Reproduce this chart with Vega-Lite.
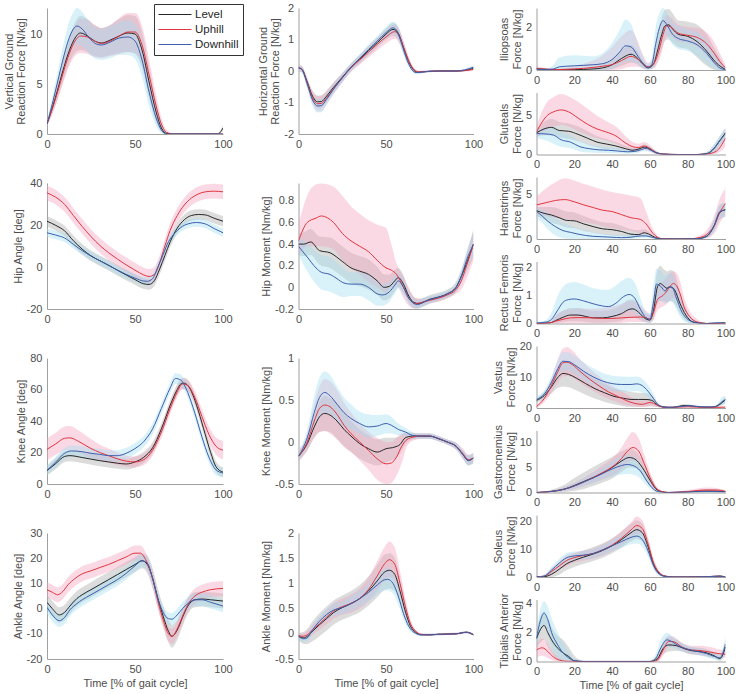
{
"$schema":"https://vega.github.io/schema/vega-lite/v6.json",
"padding":{"left":3,"top":2,"right":0,"bottom":0},
"spacing":23.5,
"hconcat":[
{"vconcat":[
{"width":176,"height":126,"data":{"name":"vgrf"},"encoding":{"x":{"field":"t","type":"quantitative","scale":{"domain":[0,100],"nice":false},"axis":{"values":[0,50,100],"tickCount":12,"title":null}}},"layer":[
{"mark":{"type":"area","interpolate":"monotone","opacity":0.4,"clip":true},"encoding":{"y":{"field":"l","type":"quantitative","stack":null,"scale":{"domain":[0,12.6],"nice":false,"zero":false},"axis":{"values":[0,5,10],"tickCount":12,"title":["Vertical Ground","Reaction Force [N/kg]"]}},"y2":{"field":"h"},"fill":{"field":"c","type":"nominal","scale":{"domain":["D","U","L"],"range":["#9fdcef","#f2a0bd","#a8a8a8"]},"legend":null}}},
{"mark":{"type":"line","interpolate":"monotone","strokeWidth":1,"clip":true},"encoding":{"y":{"field":"y","type":"quantitative"},"color":{"field":"c","type":"nominal","scale":{"domain":["L","U","D"],"range":["#262626","#e2353f","#3c5fae"]},"legend":{"title":null,"orient":"none","legendX":107,"legendY":-4,"direction":"vertical","symbolType":"stroke","symbolSize":1089,"symbolStrokeWidth":1,"clipHeight":13,"rowPadding":2,"labelOffset":3,"labelFontSize":11.5,"labelFont":"Liberation Sans","labelColor":"#262626","strokeColor":"#333333","fillColor":"white","padding":4,"labelExpr":"datum.label=='L'?'Level':datum.label=='U'?'Uphill':'Downhill'"}}}}]},
{"width":176,"height":126,"data":{"name":"hipA"},"encoding":{"x":{"field":"t","type":"quantitative","scale":{"domain":[0,100],"nice":false},"axis":{"values":[0,50,100],"tickCount":12,"title":null}}},"layer":[
{"mark":{"type":"area","interpolate":"monotone","opacity":0.4,"clip":true},"encoding":{"y":{"field":"l","type":"quantitative","stack":null,"scale":{"domain":[-20,40],"nice":false,"zero":false},"axis":{"values":[-20,0,20,40],"tickCount":12,"title":"Hip Angle [deg]"}},"y2":{"field":"h"},"fill":{"field":"c","type":"nominal","scale":{"domain":["D","U","L"],"range":["#9fdcef","#f2a0bd","#a8a8a8"]},"legend":null}}},
{"mark":{"type":"line","interpolate":"monotone","strokeWidth":1,"clip":true},"encoding":{"y":{"field":"y","type":"quantitative"},"color":{"field":"c","type":"nominal","scale":{"domain":["L","U","D"],"range":["#262626","#e2353f","#3c5fae"]},"legend":null}}}]},
{"width":176,"height":126,"data":{"name":"kneeA"},"encoding":{"x":{"field":"t","type":"quantitative","scale":{"domain":[0,100],"nice":false},"axis":{"values":[0,50,100],"tickCount":12,"title":null}}},"layer":[
{"mark":{"type":"area","interpolate":"monotone","opacity":0.4,"clip":true},"encoding":{"y":{"field":"l","type":"quantitative","stack":null,"scale":{"domain":[0,80],"nice":false,"zero":false},"axis":{"values":[0,20,40,60,80],"tickCount":12,"title":"Knee Angle [deg]"}},"y2":{"field":"h"},"fill":{"field":"c","type":"nominal","scale":{"domain":["D","U","L"],"range":["#9fdcef","#f2a0bd","#a8a8a8"]},"legend":null}}},
{"mark":{"type":"line","interpolate":"monotone","strokeWidth":1,"clip":true},"encoding":{"y":{"field":"y","type":"quantitative"},"color":{"field":"c","type":"nominal","scale":{"domain":["L","U","D"],"range":["#262626","#e2353f","#3c5fae"]},"legend":null}}}]},
{"width":176,"height":126,"data":{"name":"ankA"},"encoding":{"x":{"field":"t","type":"quantitative","scale":{"domain":[0,100],"nice":false},"axis":{"values":[0,50,100],"tickCount":12,"title":"Time [% of gait cycle]"}}},"layer":[
{"mark":{"type":"area","interpolate":"monotone","opacity":0.4,"clip":true},"encoding":{"y":{"field":"l","type":"quantitative","stack":null,"scale":{"domain":[-20,30],"nice":false,"zero":false},"axis":{"values":[-20,-10,0,10,20,30],"tickCount":12,"title":"Ankle Angle [deg]"}},"y2":{"field":"h"},"fill":{"field":"c","type":"nominal","scale":{"domain":["D","U","L"],"range":["#9fdcef","#f2a0bd","#a8a8a8"]},"legend":null}}},
{"mark":{"type":"line","interpolate":"monotone","strokeWidth":1,"clip":true},"encoding":{"y":{"field":"y","type":"quantitative"},"color":{"field":"c","type":"nominal","scale":{"domain":["L","U","D"],"range":["#262626","#e2353f","#3c5fae"]},"legend":null}}}]}
],"spacing":49,"bounds":"flush"},
{"hconcat":[
{"vconcat":[
{"width":175,"height":126,"data":{"name":"hgrf"},"encoding":{"x":{"field":"t","type":"quantitative","scale":{"domain":[0,100],"nice":false},"axis":{"values":[0,50,100],"tickCount":12,"title":null}}},"layer":[
{"mark":{"type":"area","interpolate":"monotone","opacity":0.4,"clip":true},"encoding":{"y":{"field":"l","type":"quantitative","stack":null,"scale":{"domain":[-2,2],"nice":false,"zero":false},"axis":{"values":[-2,-1,0,1,2],"tickCount":12,"title":["Horizontal Ground","Reaction Force [N/kg]"]}},"y2":{"field":"h"},"fill":{"field":"c","type":"nominal","scale":{"domain":["D","U","L"],"range":["#9fdcef","#f2a0bd","#a8a8a8"]},"legend":null}}},
{"mark":{"type":"line","interpolate":"monotone","strokeWidth":1,"clip":true},"encoding":{"y":{"field":"y","type":"quantitative"},"color":{"field":"c","type":"nominal","scale":{"domain":["L","U","D"],"range":["#262626","#e2353f","#3c5fae"]},"legend":null}}}]},
{"width":175,"height":126,"data":{"name":"hipM"},"encoding":{"x":{"field":"t","type":"quantitative","scale":{"domain":[0,100],"nice":false},"axis":{"values":[0,50,100],"tickCount":12,"title":null}}},"layer":[
{"mark":{"type":"area","interpolate":"monotone","opacity":0.4,"clip":true},"encoding":{"y":{"field":"l","type":"quantitative","stack":null,"scale":{"domain":[-0.2,0.965],"nice":false,"zero":false},"axis":{"values":[-0.2,0,0.2,0.4,0.6,0.8],"tickCount":12,"title":"Hip Moment [Nm/kg]"}},"y2":{"field":"h"},"fill":{"field":"c","type":"nominal","scale":{"domain":["D","U","L"],"range":["#9fdcef","#f2a0bd","#a8a8a8"]},"legend":null}}},
{"mark":{"type":"line","interpolate":"monotone","strokeWidth":1,"clip":true},"encoding":{"y":{"field":"y","type":"quantitative"},"color":{"field":"c","type":"nominal","scale":{"domain":["L","U","D"],"range":["#262626","#e2353f","#3c5fae"]},"legend":null}}}]},
{"width":175,"height":126,"data":{"name":"kneeM"},"encoding":{"x":{"field":"t","type":"quantitative","scale":{"domain":[0,100],"nice":false},"axis":{"values":[0,50,100],"tickCount":12,"title":null}}},"layer":[
{"mark":{"type":"area","interpolate":"monotone","opacity":0.4,"clip":true},"encoding":{"y":{"field":"l","type":"quantitative","stack":null,"scale":{"domain":[-0.5,1],"nice":false,"zero":false},"axis":{"values":[-0.5,0,0.5,1],"tickCount":12,"title":"Knee Moment [Nm/kg]"}},"y2":{"field":"h"},"fill":{"field":"c","type":"nominal","scale":{"domain":["D","U","L"],"range":["#9fdcef","#f2a0bd","#a8a8a8"]},"legend":null}}},
{"mark":{"type":"line","interpolate":"monotone","strokeWidth":1,"clip":true},"encoding":{"y":{"field":"y","type":"quantitative"},"color":{"field":"c","type":"nominal","scale":{"domain":["L","U","D"],"range":["#262626","#e2353f","#3c5fae"]},"legend":null}}}]},
{"width":175,"height":126,"data":{"name":"ankM"},"encoding":{"x":{"field":"t","type":"quantitative","scale":{"domain":[0,100],"nice":false},"axis":{"values":[0,50,100],"tickCount":12,"title":"Time [% of gait cycle]"}}},"layer":[
{"mark":{"type":"area","interpolate":"monotone","opacity":0.4,"clip":true},"encoding":{"y":{"field":"l","type":"quantitative","stack":null,"scale":{"domain":[-0.5,2],"nice":false,"zero":false},"axis":{"values":[-0.5,0,0.5,1,1.5,2],"tickCount":12,"title":"Ankle Moment [Nm/kg]"}},"y2":{"field":"h"},"fill":{"field":"c","type":"nominal","scale":{"domain":["D","U","L"],"range":["#9fdcef","#f2a0bd","#a8a8a8"]},"legend":null}}},
{"mark":{"type":"line","interpolate":"monotone","strokeWidth":1,"clip":true},"encoding":{"y":{"field":"y","type":"quantitative"},"color":{"field":"c","type":"nominal","scale":{"domain":["L","U","D"],"range":["#262626","#e2353f","#3c5fae"]},"legend":null}}}]}
],"spacing":49,"bounds":"flush"},
{"vconcat":[
{"width":189,"height":62,"data":{"name":"ilio"},"encoding":{"x":{"field":"t","type":"quantitative","scale":{"domain":[0,100],"nice":false},"axis":{"values":[0,20,40,60,80,100],"tickCount":12,"title":null}}},"layer":[
{"mark":{"type":"area","interpolate":"monotone","opacity":0.4,"clip":true},"encoding":{"y":{"field":"l","type":"quantitative","stack":null,"scale":{"domain":[0,2.95],"nice":false,"zero":false},"axis":{"values":[0,2],"tickCount":12,"title":["Iliopsoas","Force [N/kg]"]}},"y2":{"field":"h"},"fill":{"field":"c","type":"nominal","scale":{"domain":["D","U","L"],"range":["#9fdcef","#f2a0bd","#a8a8a8"]},"legend":null}}},
{"mark":{"type":"line","interpolate":"monotone","strokeWidth":1,"clip":true},"encoding":{"y":{"field":"y","type":"quantitative"},"color":{"field":"c","type":"nominal","scale":{"domain":["L","U","D"],"range":["#262626","#e2353f","#3c5fae"]},"legend":null}}}]},
{"width":189,"height":62,"data":{"name":"glut"},"encoding":{"x":{"field":"t","type":"quantitative","scale":{"domain":[0,100],"nice":false},"axis":{"values":[0,20,40,60,80,100],"tickCount":12,"title":null}}},"layer":[
{"mark":{"type":"area","interpolate":"monotone","opacity":0.4,"clip":true},"encoding":{"y":{"field":"l","type":"quantitative","stack":null,"scale":{"domain":[0,8],"nice":false,"zero":false},"axis":{"values":[0,5],"tickCount":12,"title":["Gluteals","Force [N/kg]"]}},"y2":{"field":"h"},"fill":{"field":"c","type":"nominal","scale":{"domain":["D","U","L"],"range":["#9fdcef","#f2a0bd","#a8a8a8"]},"legend":null}}},
{"mark":{"type":"line","interpolate":"monotone","strokeWidth":1,"clip":true},"encoding":{"y":{"field":"y","type":"quantitative"},"color":{"field":"c","type":"nominal","scale":{"domain":["L","U","D"],"range":["#262626","#e2353f","#3c5fae"]},"legend":null}}}]},
{"width":189,"height":62,"data":{"name":"hams"},"encoding":{"x":{"field":"t","type":"quantitative","scale":{"domain":[0,100],"nice":false},"axis":{"values":[0,20,40,60,80,100],"tickCount":12,"title":null}}},"layer":[
{"mark":{"type":"area","interpolate":"monotone","opacity":0.4,"clip":true},"encoding":{"y":{"field":"l","type":"quantitative","stack":null,"scale":{"domain":[0,7],"nice":false,"zero":false},"axis":{"values":[0,5],"tickCount":12,"title":["Hamstrings","Force [N/kg]"]}},"y2":{"field":"h"},"fill":{"field":"c","type":"nominal","scale":{"domain":["D","U","L"],"range":["#9fdcef","#f2a0bd","#a8a8a8"]},"legend":null}}},
{"mark":{"type":"line","interpolate":"monotone","strokeWidth":1,"clip":true},"encoding":{"y":{"field":"y","type":"quantitative"},"color":{"field":"c","type":"nominal","scale":{"domain":["L","U","D"],"range":["#262626","#e2353f","#3c5fae"]},"legend":null}}}]},
{"width":189,"height":62,"data":{"name":"rf"},"encoding":{"x":{"field":"t","type":"quantitative","scale":{"domain":[0,100],"nice":false},"axis":{"values":[0,20,40,60,80,100],"tickCount":12,"title":null}}},"layer":[
{"mark":{"type":"area","interpolate":"monotone","opacity":0.4,"clip":true},"encoding":{"y":{"field":"l","type":"quantitative","stack":null,"scale":{"domain":[0,2.2],"nice":false,"zero":false},"axis":{"values":[0,1,2],"tickCount":12,"title":["Rectus Femoris","Force [N/kg]"]}},"y2":{"field":"h"},"fill":{"field":"c","type":"nominal","scale":{"domain":["D","U","L"],"range":["#9fdcef","#f2a0bd","#a8a8a8"]},"legend":null}}},
{"mark":{"type":"line","interpolate":"monotone","strokeWidth":1,"clip":true},"encoding":{"y":{"field":"y","type":"quantitative"},"color":{"field":"c","type":"nominal","scale":{"domain":["L","U","D"],"range":["#262626","#e2353f","#3c5fae"]},"legend":null}}}]},
{"width":189,"height":62,"data":{"name":"vas"},"encoding":{"x":{"field":"t","type":"quantitative","scale":{"domain":[0,100],"nice":false},"axis":{"values":[0,20,40,60,80,100],"tickCount":12,"title":null}}},"layer":[
{"mark":{"type":"area","interpolate":"monotone","opacity":0.4,"clip":true},"encoding":{"y":{"field":"l","type":"quantitative","stack":null,"scale":{"domain":[0,20.3],"nice":false,"zero":false},"axis":{"values":[0,10,20],"tickCount":12,"title":["Vastus","Force [N/kg]"]}},"y2":{"field":"h"},"fill":{"field":"c","type":"nominal","scale":{"domain":["D","U","L"],"range":["#9fdcef","#f2a0bd","#a8a8a8"]},"legend":null}}},
{"mark":{"type":"line","interpolate":"monotone","strokeWidth":1,"clip":true},"encoding":{"y":{"field":"y","type":"quantitative"},"color":{"field":"c","type":"nominal","scale":{"domain":["L","U","D"],"range":["#262626","#e2353f","#3c5fae"]},"legend":null}}}]},
{"width":189,"height":62,"data":{"name":"gas"},"encoding":{"x":{"field":"t","type":"quantitative","scale":{"domain":[0,100],"nice":false},"axis":{"values":[0,20,40,60,80,100],"tickCount":12,"title":null}}},"layer":[
{"mark":{"type":"area","interpolate":"monotone","opacity":0.4,"clip":true},"encoding":{"y":{"field":"l","type":"quantitative","stack":null,"scale":{"domain":[0,12.4],"nice":false,"zero":false},"axis":{"values":[0,5,10],"tickCount":12,"title":["Gastrocnemius","Force [N/kg]"]}},"y2":{"field":"h"},"fill":{"field":"c","type":"nominal","scale":{"domain":["D","U","L"],"range":["#9fdcef","#f2a0bd","#a8a8a8"]},"legend":null}}},
{"mark":{"type":"line","interpolate":"monotone","strokeWidth":1,"clip":true},"encoding":{"y":{"field":"y","type":"quantitative"},"color":{"field":"c","type":"nominal","scale":{"domain":["L","U","D"],"range":["#262626","#e2353f","#3c5fae"]},"legend":null}}}]},
{"width":189,"height":62,"data":{"name":"sol"},"encoding":{"x":{"field":"t","type":"quantitative","scale":{"domain":[0,100],"nice":false},"axis":{"values":[0,20,40,60,80,100],"tickCount":12,"title":null}}},"layer":[
{"mark":{"type":"area","interpolate":"monotone","opacity":0.4,"clip":true},"encoding":{"y":{"field":"l","type":"quantitative","stack":null,"scale":{"domain":[0,22.4],"nice":false,"zero":false},"axis":{"values":[0,10,20],"tickCount":12,"title":["Soleus","Force [N/kg]"]}},"y2":{"field":"h"},"fill":{"field":"c","type":"nominal","scale":{"domain":["D","U","L"],"range":["#9fdcef","#f2a0bd","#a8a8a8"]},"legend":null}}},
{"mark":{"type":"line","interpolate":"monotone","strokeWidth":1,"clip":true},"encoding":{"y":{"field":"y","type":"quantitative"},"color":{"field":"c","type":"nominal","scale":{"domain":["L","U","D"],"range":["#262626","#e2353f","#3c5fae"]},"legend":null}}}]},
{"width":189,"height":62,"data":{"name":"ta"},"encoding":{"x":{"field":"t","type":"quantitative","scale":{"domain":[0,100],"nice":false},"axis":{"values":[0,20,40,60,80,100],"tickCount":12,"title":"Time [% of gait cycle]"}}},"layer":[
{"mark":{"type":"area","interpolate":"monotone","opacity":0.4,"clip":true},"encoding":{"y":{"field":"l","type":"quantitative","stack":null,"scale":{"domain":[0,4.3],"nice":false,"zero":false},"axis":{"values":[0,2,4],"tickCount":12,"title":["Tibialis Anterior","Force [N/kg]"]}},"y2":{"field":"h"},"fill":{"field":"c","type":"nominal","scale":{"domain":["D","U","L"],"range":["#9fdcef","#f2a0bd","#a8a8a8"]},"legend":null}}},
{"mark":{"type":"line","interpolate":"monotone","strokeWidth":1,"clip":true},"encoding":{"y":{"field":"y","type":"quantitative"},"color":{"field":"c","type":"nominal","scale":{"domain":["L","U","D"],"range":["#262626","#e2353f","#3c5fae"]},"legend":null}}}]}
],"spacing":22.5,"bounds":"flush"}
],"spacing":9}
],
"datasets":{
"vgrf":[
{"c":"L","t":0,"y":1.0,"l":0.8,"h":1.2},{"c":"L","t":3,"y":2.6,"l":2.0,"h":3.2},{"c":"L","t":6,"y":4.4,"l":3.5,"h":5.3},{"c":"L","t":9,"y":6.3,"l":5.2,"h":7.4},{"c":"L","t":12,"y":8.0,"l":6.8,"h":9.3},{"c":"L","t":15,"y":9.3,"l":7.9,"h":10.8},{"c":"L","t":19,"y":10.1,"l":8.4,"h":11.8},{"c":"L","t":23,"y":9.8,"l":8.2,"h":11.5},{"c":"L","t":27,"y":9.3,"l":7.8,"h":10.9},{"c":"L","t":31,"y":9.1,"l":7.7,"h":10.6},{"c":"L","t":36,"y":9.4,"l":7.9,"h":10.9},{"c":"L","t":41,"y":9.8,"l":8.1,"h":11.5},{"c":"L","t":46,"y":10.1,"l":8.2,"h":11.9},{"c":"L","t":50,"y":10.0,"l":8.0,"h":11.8},{"c":"L","t":54,"y":8.4,"l":6.6,"h":10.2},{"c":"L","t":58,"y":5.2,"l":3.6,"h":6.8},{"c":"L","t":62,"y":2.2,"l":1.2,"h":3.2},{"c":"L","t":65,"y":0.6,"l":0.2,"h":1.1},{"c":"L","t":68,"y":0.05,"l":0,"h":0.2},{"c":"L","t":72,"y":0,"l":0,"h":0.05},{"c":"L","t":80,"y":0,"l":0,"h":0.1},{"c":"L","t":90,"y":0,"l":0,"h":0.1},{"c":"L","t":97,"y":0,"l":0,"h":0.1},{"c":"L","t":100,"y":0.6,"l":0.3,"h":0.9},
{"c":"U","t":0,"y":1.0,"l":0.8,"h":1.2},{"c":"U","t":3,"y":2.5,"l":2.0,"h":3.0},{"c":"U","t":6,"y":4.2,"l":3.4,"h":5.0},{"c":"U","t":9,"y":6.0,"l":5.0,"h":7.0},{"c":"U","t":12,"y":7.7,"l":6.5,"h":8.9},{"c":"U","t":15,"y":9.0,"l":7.6,"h":10.4},{"c":"U","t":19,"y":9.8,"l":8.1,"h":11.5},{"c":"U","t":23,"y":9.7,"l":8.0,"h":11.4},{"c":"U","t":27,"y":9.3,"l":7.7,"h":10.9},{"c":"U","t":31,"y":9.05,"l":7.6,"h":10.6},{"c":"U","t":36,"y":9.3,"l":7.8,"h":10.9},{"c":"U","t":41,"y":9.8,"l":8.0,"h":11.6},{"c":"U","t":46,"y":10.2,"l":8.2,"h":12.1},{"c":"U","t":50,"y":10.2,"l":8.1,"h":12.1},{"c":"U","t":54,"y":8.9,"l":7.0,"h":10.8},{"c":"U","t":58,"y":5.9,"l":4.2,"h":7.5},{"c":"U","t":62,"y":2.8,"l":1.7,"h":3.9},{"c":"U","t":65,"y":1.0,"l":0.4,"h":1.6},{"c":"U","t":68,"y":0.15,"l":0,"h":0.4},{"c":"U","t":72,"y":0,"l":0,"h":0.05},{"c":"U","t":80,"y":0,"l":0,"h":0.05},{"c":"U","t":100,"y":0,"l":0,"h":0.05},
{"c":"D","t":0,"y":1.0,"l":0.8,"h":1.2},{"c":"D","t":3,"y":3.0,"l":2.3,"h":3.7},{"c":"D","t":6,"y":5.2,"l":4.2,"h":6.2},{"c":"D","t":9,"y":7.4,"l":6.1,"h":8.7},{"c":"D","t":12,"y":9.3,"l":7.8,"h":10.9},{"c":"D","t":15,"y":10.5,"l":8.8,"h":12.2},{"c":"D","t":17,"y":10.8,"l":9.0,"h":12.6},{"c":"D","t":20,"y":10.5,"l":8.8,"h":12.2},{"c":"D","t":24,"y":9.6,"l":8.0,"h":11.2},{"c":"D","t":28,"y":9.0,"l":7.5,"h":10.6},{"c":"D","t":31,"y":8.9,"l":7.4,"h":10.5},{"c":"D","t":36,"y":9.2,"l":7.6,"h":10.8},{"c":"D","t":41,"y":9.6,"l":7.9,"h":11.2},{"c":"D","t":46,"y":9.7,"l":7.9,"h":11.4},{"c":"D","t":50,"y":9.3,"l":7.5,"h":11.0},{"c":"D","t":54,"y":7.4,"l":5.7,"h":9.1},{"c":"D","t":58,"y":4.2,"l":2.8,"h":5.6},{"c":"D","t":62,"y":1.6,"l":0.8,"h":2.4},{"c":"D","t":65,"y":0.4,"l":0.1,"h":0.8},{"c":"D","t":68,"y":0,"l":0,"h":0.1},{"c":"D","t":80,"y":0,"l":0,"h":0.05},{"c":"D","t":100,"y":0,"l":0,"h":0.05}
],
"hgrf":[
{"c":"L","t":0,"y":0.1,"l":0.0,"h":0.2},{"c":"L","t":2,"y":0.05,"l":-0.05,"h":0.15},{"c":"L","t":5,"y":-0.35,"l":-0.48,"h":-0.22},{"c":"L","t":8,"y":-0.8,"l":-0.97,"h":-0.63},{"c":"L","t":11,"y":-0.98,"l":-1.18,"h":-0.78},{"c":"L","t":13,"y":-0.97,"l":-1.17,"h":-0.77},{"c":"L","t":16,"y":-0.8,"l":-0.98,"h":-0.62},{"c":"L","t":20,"y":-0.52,"l":-0.68,"h":-0.36},{"c":"L","t":25,"y":-0.2,"l":-0.33,"h":-0.07},{"c":"L","t":30,"y":0.12,"l":0.0,"h":0.24},{"c":"L","t":35,"y":0.38,"l":0.25,"h":0.51},{"c":"L","t":40,"y":0.65,"l":0.5,"h":0.8},{"c":"L","t":45,"y":0.9,"l":0.74,"h":1.06},{"c":"L","t":50,"y":1.17,"l":0.99,"h":1.35},{"c":"L","t":54,"y":1.32,"l":1.12,"h":1.52},{"c":"L","t":57,"y":1.2,"l":1.0,"h":1.4},{"c":"L","t":60,"y":0.75,"l":0.57,"h":0.93},{"c":"L","t":63,"y":0.3,"l":0.18,"h":0.42},{"c":"L","t":66,"y":0.02,"l":-0.04,"h":0.08},{"c":"L","t":68,"y":-0.04,"l":-0.08,"h":0.0},{"c":"L","t":72,"y":-0.02,"l":-0.05,"h":0.01},{"c":"L","t":80,"y":0,"l":-0.02,"h":0.02},{"c":"L","t":90,"y":0,"l":-0.02,"h":0.02},{"c":"L","t":96,"y":0.02,"l":-0.01,"h":0.05},{"c":"L","t":100,"y":0.1,"l":0.04,"h":0.16},
{"c":"U","t":0,"y":0.1,"l":0.0,"h":0.2},{"c":"U","t":2,"y":0.05,"l":-0.05,"h":0.15},{"c":"U","t":5,"y":-0.38,"l":-0.52,"h":-0.24},{"c":"U","t":8,"y":-0.85,"l":-1.05,"h":-0.65},{"c":"U","t":11,"y":-1.04,"l":-1.28,"h":-0.8},{"c":"U","t":13,"y":-1.03,"l":-1.27,"h":-0.79},{"c":"U","t":16,"y":-0.86,"l":-1.06,"h":-0.66},{"c":"U","t":20,"y":-0.56,"l":-0.74,"h":-0.38},{"c":"U","t":25,"y":-0.22,"l":-0.37,"h":-0.07},{"c":"U","t":30,"y":0.1,"l":-0.04,"h":0.24},{"c":"U","t":35,"y":0.35,"l":0.2,"h":0.5},{"c":"U","t":40,"y":0.6,"l":0.43,"h":0.77},{"c":"U","t":45,"y":0.85,"l":0.66,"h":1.04},{"c":"U","t":50,"y":1.08,"l":0.87,"h":1.29},{"c":"U","t":55,"y":1.25,"l":1.02,"h":1.48},{"c":"U","t":58,"y":1.05,"l":0.83,"h":1.27},{"c":"U","t":61,"y":0.6,"l":0.43,"h":0.77},{"c":"U","t":64,"y":0.2,"l":0.1,"h":0.3},{"c":"U","t":67,"y":0.0,"l":-0.05,"h":0.05},{"c":"U","t":69,"y":-0.03,"l":-0.07,"h":0.01},{"c":"U","t":75,"y":-0.01,"l":-0.04,"h":0.02},{"c":"U","t":80,"y":0,"l":-0.02,"h":0.02},{"c":"U","t":90,"y":0,"l":-0.02,"h":0.02},{"c":"U","t":100,"y":0.05,"l":0.0,"h":0.1},
{"c":"D","t":0,"y":0.1,"l":0.0,"h":0.2},{"c":"D","t":2,"y":0.04,"l":-0.06,"h":0.14},{"c":"D","t":5,"y":-0.42,"l":-0.56,"h":-0.28},{"c":"D","t":8,"y":-0.92,"l":-1.1,"h":-0.74},{"c":"D","t":11,"y":-1.11,"l":-1.32,"h":-0.9},{"c":"D","t":13,"y":-1.1,"l":-1.31,"h":-0.89},{"c":"D","t":16,"y":-0.9,"l":-1.08,"h":-0.72},{"c":"D","t":20,"y":-0.58,"l":-0.74,"h":-0.42},{"c":"D","t":25,"y":-0.22,"l":-0.36,"h":-0.08},{"c":"D","t":30,"y":0.12,"l":-0.01,"h":0.25},{"c":"D","t":35,"y":0.4,"l":0.26,"h":0.54},{"c":"D","t":40,"y":0.68,"l":0.53,"h":0.83},{"c":"D","t":45,"y":0.95,"l":0.79,"h":1.11},{"c":"D","t":50,"y":1.22,"l":1.04,"h":1.4},{"c":"D","t":54,"y":1.37,"l":1.17,"h":1.57},{"c":"D","t":56,"y":1.3,"l":1.1,"h":1.5},{"c":"D","t":59,"y":0.85,"l":0.67,"h":1.03},{"c":"D","t":62,"y":0.35,"l":0.22,"h":0.48},{"c":"D","t":65,"y":0.03,"l":-0.03,"h":0.09},{"c":"D","t":67,"y":-0.05,"l":-0.1,"h":0.0},{"c":"D","t":70,"y":-0.04,"l":-0.08,"h":0.0},{"c":"D","t":75,"y":-0.01,"l":-0.04,"h":0.02},{"c":"D","t":80,"y":0,"l":-0.02,"h":0.02},{"c":"D","t":90,"y":0,"l":-0.02,"h":0.02},{"c":"D","t":100,"y":0.12,"l":0.06,"h":0.18}
],
"hipA":[
{"c":"L","t":0,"y":21.8,"l":19.3,"h":24.3},{"c":"L","t":5,"y":19.8,"l":17.3,"h":22.3},{"c":"L","t":10,"y":17.2,"l":14.7,"h":19.7},{"c":"L","t":15,"y":12.5,"l":10.0,"h":15.0},{"c":"L","t":20,"y":8.5,"l":6.0,"h":11.0},{"c":"L","t":25,"y":5.3,"l":2.8,"h":7.8},{"c":"L","t":30,"y":3.0,"l":0.5,"h":5.5},{"c":"L","t":35,"y":0.8,"l":-1.7,"h":3.3},{"c":"L","t":40,"y":-1.5,"l":-4.0,"h":1.0},{"c":"L","t":45,"y":-3.8,"l":-6.3,"h":-1.3},{"c":"L","t":50,"y":-6.0,"l":-8.5,"h":-3.5},{"c":"L","t":55,"y":-8.0,"l":-10.5,"h":-5.5},{"c":"L","t":58,"y":-8.3,"l":-10.8,"h":-5.8},{"c":"L","t":61,"y":-6.5,"l":-9.0,"h":-4.0},{"c":"L","t":64,"y":-1.0,"l":-3.5,"h":1.5},{"c":"L","t":67,"y":5.5,"l":3.0,"h":8.0},{"c":"L","t":70,"y":12.0,"l":9.5,"h":14.5},{"c":"L","t":74,"y":18.5,"l":16.0,"h":21.0},{"c":"L","t":78,"y":22.5,"l":20.0,"h":25.0},{"c":"L","t":82,"y":24.5,"l":22.0,"h":27.0},{"c":"L","t":86,"y":25.0,"l":22.5,"h":27.5},{"c":"L","t":90,"y":24.8,"l":22.3,"h":27.3},{"c":"L","t":95,"y":23.2,"l":20.7,"h":25.7},{"c":"L","t":100,"y":21.8,"l":19.3,"h":24.3},
{"c":"U","t":0,"y":35.3,"l":31.8,"h":38.8},{"c":"U","t":5,"y":33.2,"l":29.7,"h":36.7},{"c":"U","t":10,"y":29.8,"l":26.3,"h":33.3},{"c":"U","t":15,"y":24.5,"l":21.0,"h":28.0},{"c":"U","t":20,"y":19.3,"l":15.8,"h":22.8},{"c":"U","t":25,"y":14.5,"l":11.0,"h":18.0},{"c":"U","t":30,"y":10.3,"l":6.8,"h":13.8},{"c":"U","t":35,"y":6.8,"l":3.3,"h":10.3},{"c":"U","t":40,"y":3.8,"l":0.3,"h":7.3},{"c":"U","t":45,"y":1.0,"l":-2.5,"h":4.5},{"c":"U","t":50,"y":-1.5,"l":-5.0,"h":2.0},{"c":"U","t":55,"y":-3.8,"l":-7.3,"h":-0.3},{"c":"U","t":58,"y":-4.5,"l":-8.0,"h":-1.0},{"c":"U","t":61,"y":-3.5,"l":-7.0,"h":0.0},{"c":"U","t":64,"y":2.0,"l":-1.5,"h":5.5},{"c":"U","t":67,"y":10.0,"l":6.5,"h":13.5},{"c":"U","t":70,"y":17.5,"l":14.0,"h":21.0},{"c":"U","t":74,"y":24.5,"l":21.0,"h":28.0},{"c":"U","t":78,"y":29.5,"l":26.0,"h":33.0},{"c":"U","t":82,"y":32.8,"l":29.3,"h":36.3},{"c":"U","t":86,"y":34.8,"l":31.3,"h":38.3},{"c":"U","t":90,"y":35.8,"l":32.3,"h":39.3},{"c":"U","t":95,"y":36.1,"l":32.6,"h":39.6},{"c":"U","t":100,"y":35.8,"l":32.3,"h":39.3},
{"c":"D","t":0,"y":16.3,"l":14.3,"h":18.3},{"c":"D","t":5,"y":15.2,"l":13.2,"h":17.2},{"c":"D","t":10,"y":13.8,"l":11.8,"h":15.8},{"c":"D","t":15,"y":10.8,"l":8.8,"h":12.8},{"c":"D","t":20,"y":7.8,"l":5.8,"h":9.8},{"c":"D","t":25,"y":5.2,"l":3.2,"h":7.2},{"c":"D","t":30,"y":3.0,"l":1.0,"h":5.0},{"c":"D","t":35,"y":0.8,"l":-1.2,"h":2.8},{"c":"D","t":40,"y":-1.5,"l":-3.5,"h":0.5},{"c":"D","t":45,"y":-3.5,"l":-5.5,"h":-1.5},{"c":"D","t":50,"y":-5.3,"l":-7.3,"h":-3.3},{"c":"D","t":55,"y":-6.7,"l":-8.7,"h":-4.7},{"c":"D","t":57,"y":-6.8,"l":-8.8,"h":-4.8},{"c":"D","t":60,"y":-5.5,"l":-7.5,"h":-3.5},{"c":"D","t":63,"y":0,"l":-2.0,"h":2.0},{"c":"D","t":66,"y":6.0,"l":4.0,"h":8.0},{"c":"D","t":69,"y":12.0,"l":10.0,"h":14.0},{"c":"D","t":72,"y":15.5,"l":13.5,"h":17.5},{"c":"D","t":76,"y":18.8,"l":16.8,"h":20.8},{"c":"D","t":80,"y":20.5,"l":18.5,"h":22.5},{"c":"D","t":85,"y":21.2,"l":19.2,"h":23.2},{"c":"D","t":90,"y":20.5,"l":18.5,"h":22.5},{"c":"D","t":95,"y":18.3,"l":16.3,"h":20.3},{"c":"D","t":100,"y":16.3,"l":14.3,"h":18.3}
],
"hipM":[
{"c":"L","t":0,"y":0.4,"l":0.3,"h":0.5},{"c":"L","t":3,"y":0.4,"l":0.29,"h":0.51},{"c":"L","t":7,"y":0.42,"l":0.3,"h":0.54},{"c":"L","t":12,"y":0.34,"l":0.21,"h":0.47},{"c":"L","t":18,"y":0.32,"l":0.18,"h":0.46},{"c":"L","t":25,"y":0.24,"l":0.1,"h":0.38},{"c":"L","t":30,"y":0.18,"l":0.04,"h":0.32},{"c":"L","t":35,"y":0.15,"l":0.01,"h":0.29},{"c":"L","t":40,"y":0.12,"l":-0.02,"h":0.26},{"c":"L","t":45,"y":0.06,"l":-0.07,"h":0.19},{"c":"L","t":49,"y":0.0,"l":-0.12,"h":0.12},{"c":"L","t":52,"y":0.01,"l":-0.1,"h":0.12},{"c":"L","t":55,"y":0.06,"l":-0.04,"h":0.16},{"c":"L","t":57,"y":0.09,"l":0.0,"h":0.18},{"c":"L","t":60,"y":0.03,"l":-0.05,"h":0.11},{"c":"L","t":63,"y":-0.08,"l":-0.14,"h":-0.02},{"c":"L","t":66,"y":-0.14,"l":-0.19,"h":-0.09},{"c":"L","t":69,"y":-0.15,"l":-0.19,"h":-0.11},{"c":"L","t":75,"y":-0.11,"l":-0.15,"h":-0.07},{"c":"L","t":80,"y":-0.09,"l":-0.13,"h":-0.05},{"c":"L","t":85,"y":-0.06,"l":-0.1,"h":-0.02},{"c":"L","t":90,"y":0.0,"l":-0.05,"h":0.05},{"c":"L","t":93,"y":0.1,"l":0.04,"h":0.16},{"c":"L","t":96,"y":0.22,"l":0.14,"h":0.3},{"c":"L","t":100,"y":0.4,"l":0.28,"h":0.54},
{"c":"U","t":0,"y":0.43,"l":0.3,"h":0.58},{"c":"U","t":5,"y":0.6,"l":0.38,"h":0.85},{"c":"U","t":10,"y":0.64,"l":0.38,"h":0.95},{"c":"U","t":13,"y":0.66,"l":0.38,"h":0.96},{"c":"U","t":20,"y":0.6,"l":0.35,"h":0.93},{"c":"U","t":25,"y":0.5,"l":0.25,"h":0.85},{"c":"U","t":30,"y":0.43,"l":0.18,"h":0.75},{"c":"U","t":35,"y":0.38,"l":0.12,"h":0.68},{"c":"U","t":40,"y":0.33,"l":0.05,"h":0.62},{"c":"U","t":45,"y":0.25,"l":0.0,"h":0.58},{"c":"U","t":50,"y":0.18,"l":-0.05,"h":0.55},{"c":"U","t":53,"y":0.16,"l":0.0,"h":0.4},{"c":"U","t":56,"y":0.12,"l":0.02,"h":0.22},{"c":"U","t":60,"y":0.0,"l":-0.1,"h":0.1},{"c":"U","t":63,"y":-0.1,"l":-0.17,"h":0.0},{"c":"U","t":67,"y":-0.15,"l":-0.2,"h":-0.1},{"c":"U","t":70,"y":-0.14,"l":-0.18,"h":-0.1},{"c":"U","t":75,"y":-0.12,"l":-0.15,"h":-0.09},{"c":"U","t":80,"y":-0.1,"l":-0.13,"h":-0.07},{"c":"U","t":85,"y":-0.07,"l":-0.1,"h":-0.04},{"c":"U","t":90,"y":-0.02,"l":-0.06,"h":0.02},{"c":"U","t":93,"y":0.06,"l":-0.02,"h":0.14},{"c":"U","t":96,"y":0.2,"l":0.08,"h":0.32},{"c":"U","t":100,"y":0.4,"l":0.25,"h":0.52},
{"c":"D","t":0,"y":0.38,"l":0.3,"h":0.46},{"c":"D","t":5,"y":0.28,"l":0.15,"h":0.41},{"c":"D","t":10,"y":0.18,"l":0.03,"h":0.33},{"c":"D","t":13,"y":0.14,"l":-0.02,"h":0.3},{"c":"D","t":18,"y":0.12,"l":-0.04,"h":0.28},{"c":"D","t":22,"y":0.08,"l":-0.07,"h":0.23},{"c":"D","t":26,"y":0.04,"l":-0.09,"h":0.17},{"c":"D","t":30,"y":0.03,"l":-0.08,"h":0.14},{"c":"D","t":35,"y":0.03,"l":-0.08,"h":0.14},{"c":"D","t":40,"y":0.0,"l":-0.12,"h":0.12},{"c":"D","t":45,"y":-0.06,"l":-0.17,"h":0.05},{"c":"D","t":48,"y":-0.07,"l":-0.17,"h":0.03},{"c":"D","t":52,"y":-0.04,"l":-0.13,"h":0.05},{"c":"D","t":55,"y":0.02,"l":-0.06,"h":0.1},{"c":"D","t":57,"y":0.06,"l":-0.01,"h":0.13},{"c":"D","t":60,"y":0.0,"l":-0.07,"h":0.07},{"c":"D","t":63,"y":-0.1,"l":-0.15,"h":-0.05},{"c":"D","t":66,"y":-0.15,"l":-0.19,"h":-0.11},{"c":"D","t":68,"y":-0.16,"l":-0.2,"h":-0.12},{"c":"D","t":72,"y":-0.13,"l":-0.17,"h":-0.09},{"c":"D","t":78,"y":-0.1,"l":-0.13,"h":-0.07},{"c":"D","t":85,"y":-0.06,"l":-0.09,"h":-0.03},{"c":"D","t":90,"y":0.0,"l":-0.04,"h":0.04},{"c":"D","t":93,"y":0.1,"l":0.04,"h":0.16},{"c":"D","t":96,"y":0.25,"l":0.17,"h":0.33},{"c":"D","t":100,"y":0.4,"l":0.3,"h":0.5}
],
"kneeA":[
{"c":"L","t":0,"y":8.5,"l":5.5,"h":11.5},{"c":"L","t":5,"y":13.0,"l":9.5,"h":16.5},{"c":"L","t":10,"y":17.5,"l":14.0,"h":21.0},{"c":"L","t":13,"y":18.0,"l":14.5,"h":21.5},{"c":"L","t":20,"y":16.8,"l":13.3,"h":20.3},{"c":"L","t":25,"y":15.8,"l":12.3,"h":19.3},{"c":"L","t":30,"y":14.8,"l":11.3,"h":18.3},{"c":"L","t":35,"y":14.0,"l":10.5,"h":17.5},{"c":"L","t":40,"y":13.2,"l":9.7,"h":16.7},{"c":"L","t":45,"y":12.7,"l":9.2,"h":16.2},{"c":"L","t":50,"y":14.0,"l":10.5,"h":17.5},{"c":"L","t":55,"y":17.0,"l":13.5,"h":20.5},{"c":"L","t":60,"y":23.0,"l":19.5,"h":26.5},{"c":"L","t":65,"y":35.0,"l":31.5,"h":38.5},{"c":"L","t":70,"y":50.0,"l":46.5,"h":53.5},{"c":"L","t":74,"y":60.0,"l":56.5,"h":63.5},{"c":"L","t":76,"y":63.5,"l":60.0,"h":67.0},{"c":"L","t":78,"y":64.0,"l":60.5,"h":67.5},{"c":"L","t":81,"y":61.0,"l":57.5,"h":64.5},{"c":"L","t":85,"y":50.0,"l":46.5,"h":53.5},{"c":"L","t":89,"y":35.0,"l":31.5,"h":38.5},{"c":"L","t":93,"y":20.0,"l":16.5,"h":23.5},{"c":"L","t":96,"y":11.0,"l":7.5,"h":14.5},{"c":"L","t":100,"y":7.5,"l":4.5,"h":10.5},
{"c":"U","t":0,"y":22.0,"l":15.0,"h":29.0},{"c":"U","t":5,"y":25.5,"l":18.5,"h":32.5},{"c":"U","t":10,"y":29.0,"l":21.5,"h":36.5},{"c":"U","t":13,"y":29.3,"l":21.8,"h":36.8},{"c":"U","t":18,"y":27.0,"l":20.0,"h":34.0},{"c":"U","t":25,"y":22.5,"l":16.5,"h":28.5},{"c":"U","t":30,"y":20.0,"l":15.0,"h":25.0},{"c":"U","t":35,"y":18.0,"l":13.5,"h":22.5},{"c":"U","t":40,"y":16.0,"l":12.0,"h":20.0},{"c":"U","t":45,"y":14.5,"l":11.0,"h":18.0},{"c":"U","t":50,"y":14.0,"l":10.5,"h":17.5},{"c":"U","t":55,"y":15.5,"l":12.0,"h":19.0},{"c":"U","t":60,"y":21.5,"l":18.0,"h":25.0},{"c":"U","t":65,"y":33.0,"l":29.5,"h":36.5},{"c":"U","t":70,"y":48.0,"l":44.5,"h":51.5},{"c":"U","t":74,"y":58.5,"l":55.0,"h":62.0},{"c":"U","t":77,"y":63.5,"l":60.0,"h":67.0},{"c":"U","t":80,"y":62.5,"l":59.0,"h":66.0},{"c":"U","t":84,"y":55.0,"l":51.0,"h":59.0},{"c":"U","t":88,"y":43.0,"l":38.5,"h":47.5},{"c":"U","t":92,"y":31.5,"l":26.5,"h":36.5},{"c":"U","t":96,"y":24.0,"l":18.5,"h":29.5},{"c":"U","t":100,"y":21.5,"l":15.5,"h":27.5},
{"c":"D","t":0,"y":8.7,"l":5.7,"h":11.7},{"c":"D","t":5,"y":14.0,"l":10.5,"h":17.5},{"c":"D","t":10,"y":19.5,"l":16.0,"h":23.0},{"c":"D","t":14,"y":21.0,"l":17.5,"h":24.5},{"c":"D","t":20,"y":20.5,"l":17.0,"h":24.0},{"c":"D","t":25,"y":19.5,"l":16.0,"h":23.0},{"c":"D","t":30,"y":18.8,"l":15.3,"h":22.3},{"c":"D","t":35,"y":18.0,"l":14.5,"h":21.5},{"c":"D","t":40,"y":18.0,"l":14.5,"h":21.5},{"c":"D","t":45,"y":19.5,"l":16.0,"h":23.0},{"c":"D","t":50,"y":22.5,"l":19.0,"h":26.0},{"c":"D","t":55,"y":27.0,"l":23.5,"h":30.5},{"c":"D","t":60,"y":35.0,"l":31.5,"h":38.5},{"c":"D","t":65,"y":48.0,"l":44.5,"h":51.5},{"c":"D","t":70,"y":61.0,"l":57.5,"h":64.5},{"c":"D","t":73,"y":67.0,"l":63.5,"h":70.5},{"c":"D","t":76,"y":66.0,"l":62.5,"h":69.5},{"c":"D","t":80,"y":58.0,"l":54.5,"h":61.5},{"c":"D","t":84,"y":45.0,"l":41.5,"h":48.5},{"c":"D","t":88,"y":30.0,"l":26.5,"h":33.5},{"c":"D","t":92,"y":17.0,"l":13.5,"h":20.5},{"c":"D","t":96,"y":9.0,"l":5.5,"h":12.5},{"c":"D","t":100,"y":7.0,"l":4.0,"h":10.0}
],
"kneeM":[
{"c":"L","t":0,"y":-0.17,"l":-0.22,"h":-0.12},{"c":"L","t":5,"y":-0.02,"l":-0.1,"h":0.06},{"c":"L","t":9,"y":0.18,"l":0.05,"h":0.31},{"c":"L","t":12,"y":0.3,"l":0.12,"h":0.48},{"c":"L","t":15,"y":0.34,"l":0.13,"h":0.55},{"c":"L","t":18,"y":0.32,"l":0.12,"h":0.52},{"c":"L","t":22,"y":0.25,"l":0.04,"h":0.46},{"c":"L","t":26,"y":0.15,"l":-0.05,"h":0.35},{"c":"L","t":30,"y":0.07,"l":-0.12,"h":0.25},{"c":"L","t":35,"y":-0.02,"l":-0.2,"h":0.15},{"c":"L","t":40,"y":-0.08,"l":-0.25,"h":0.08},{"c":"L","t":45,"y":-0.12,"l":-0.28,"h":0.03},{"c":"L","t":50,"y":-0.08,"l":-0.24,"h":0.05},{"c":"L","t":55,"y":-0.06,"l":-0.2,"h":0.05},{"c":"L","t":58,"y":-0.03,"l":-0.14,"h":0.07},{"c":"L","t":61,"y":0.05,"l":-0.03,"h":0.12},{"c":"L","t":65,"y":0.07,"l":0.03,"h":0.11},{"c":"L","t":70,"y":0.07,"l":0.04,"h":0.1},{"c":"L","t":75,"y":0.07,"l":0.04,"h":0.1},{"c":"L","t":80,"y":0.04,"l":0.01,"h":0.07},{"c":"L","t":85,"y":0.0,"l":-0.03,"h":0.03},{"c":"L","t":90,"y":-0.05,"l":-0.09,"h":-0.01},{"c":"L","t":94,"y":-0.15,"l":-0.2,"h":-0.1},{"c":"L","t":97,"y":-0.22,"l":-0.28,"h":-0.16},{"c":"L","t":100,"y":-0.19,"l":-0.25,"h":-0.13},
{"c":"U","t":0,"y":-0.17,"l":-0.24,"h":-0.1},{"c":"U","t":5,"y":0.0,"l":-0.1,"h":0.1},{"c":"U","t":9,"y":0.25,"l":0.05,"h":0.45},{"c":"U","t":12,"y":0.4,"l":0.12,"h":0.66},{"c":"U","t":15,"y":0.44,"l":0.13,"h":0.75},{"c":"U","t":18,"y":0.42,"l":0.1,"h":0.72},{"c":"U","t":22,"y":0.33,"l":0.03,"h":0.62},{"c":"U","t":26,"y":0.2,"l":-0.06,"h":0.47},{"c":"U","t":30,"y":0.1,"l":-0.12,"h":0.35},{"c":"U","t":35,"y":0.0,"l":-0.22,"h":0.22},{"c":"U","t":40,"y":-0.1,"l":-0.33,"h":0.12},{"c":"U","t":45,"y":-0.2,"l":-0.45,"h":0.05},{"c":"U","t":50,"y":-0.26,"l":-0.5,"h":0.0},{"c":"U","t":53,"y":-0.25,"l":-0.49,"h":0.0},{"c":"U","t":56,"y":-0.18,"l":-0.4,"h":0.05},{"c":"U","t":59,"y":-0.05,"l":-0.25,"h":0.1},{"c":"U","t":62,"y":0.03,"l":-0.05,"h":0.1},{"c":"U","t":66,"y":0.06,"l":0.02,"h":0.1},{"c":"U","t":70,"y":0.07,"l":0.04,"h":0.1},{"c":"U","t":75,"y":0.07,"l":0.04,"h":0.1},{"c":"U","t":80,"y":0.04,"l":0.01,"h":0.07},{"c":"U","t":85,"y":0.0,"l":-0.03,"h":0.03},{"c":"U","t":90,"y":-0.05,"l":-0.09,"h":-0.01},{"c":"U","t":94,"y":-0.14,"l":-0.2,"h":-0.08},{"c":"U","t":97,"y":-0.21,"l":-0.27,"h":-0.15},{"c":"U","t":100,"y":-0.19,"l":-0.25,"h":-0.13},
{"c":"D","t":0,"y":-0.17,"l":-0.22,"h":-0.12},{"c":"D","t":5,"y":0.05,"l":-0.05,"h":0.15},{"c":"D","t":9,"y":0.35,"l":0.17,"h":0.55},{"c":"D","t":12,"y":0.53,"l":0.3,"h":0.77},{"c":"D","t":15,"y":0.59,"l":0.35,"h":0.84},{"c":"D","t":18,"y":0.55,"l":0.33,"h":0.8},{"c":"D","t":22,"y":0.45,"l":0.25,"h":0.66},{"c":"D","t":26,"y":0.35,"l":0.18,"h":0.53},{"c":"D","t":30,"y":0.28,"l":0.15,"h":0.45},{"c":"D","t":35,"y":0.22,"l":0.1,"h":0.36},{"c":"D","t":40,"y":0.18,"l":0.05,"h":0.33},{"c":"D","t":45,"y":0.19,"l":0.07,"h":0.32},{"c":"D","t":50,"y":0.22,"l":0.1,"h":0.33},{"c":"D","t":53,"y":0.2,"l":0.1,"h":0.3},{"c":"D","t":57,"y":0.15,"l":0.08,"h":0.22},{"c":"D","t":61,"y":0.12,"l":0.07,"h":0.17},{"c":"D","t":65,"y":0.08,"l":0.04,"h":0.12},{"c":"D","t":70,"y":0.07,"l":0.04,"h":0.1},{"c":"D","t":75,"y":0.07,"l":0.04,"h":0.1},{"c":"D","t":80,"y":0.04,"l":0.01,"h":0.07},{"c":"D","t":85,"y":0.0,"l":-0.03,"h":0.03},{"c":"D","t":90,"y":-0.05,"l":-0.09,"h":-0.01},{"c":"D","t":94,"y":-0.15,"l":-0.2,"h":-0.1},{"c":"D","t":97,"y":-0.22,"l":-0.28,"h":-0.16},{"c":"D","t":100,"y":-0.19,"l":-0.25,"h":-0.13}
],
"ankA":[
{"c":"L","t":0,"y":2.5,"l":-0.5,"h":5.5},{"c":"L","t":3,"y":0.0,"l":-3.0,"h":3.0},{"c":"L","t":7,"y":-2.5,"l":-5.5,"h":0.5},{"c":"L","t":10,"y":-1.5,"l":-4.5,"h":1.5},{"c":"L","t":13,"y":1.0,"l":-2.0,"h":4.0},{"c":"L","t":17,"y":4.0,"l":1.0,"h":7.0},{"c":"L","t":20,"y":5.5,"l":2.5,"h":8.5},{"c":"L","t":25,"y":7.5,"l":4.5,"h":10.5},{"c":"L","t":30,"y":9.5,"l":6.5,"h":12.5},{"c":"L","t":35,"y":11.5,"l":8.5,"h":14.5},{"c":"L","t":40,"y":13.5,"l":10.5,"h":16.5},{"c":"L","t":45,"y":15.5,"l":12.5,"h":18.5},{"c":"L","t":50,"y":17.5,"l":14.5,"h":20.5},{"c":"L","t":54,"y":19.0,"l":16.0,"h":22.0},{"c":"L","t":57,"y":17.5,"l":14.0,"h":21.0},{"c":"L","t":60,"y":12.0,"l":8.0,"h":16.0},{"c":"L","t":63,"y":4.0,"l":0.0,"h":8.0},{"c":"L","t":66,"y":-3.0,"l":-7.0,"h":1.0},{"c":"L","t":69,"y":-9.0,"l":-13.5,"h":-4.5},{"c":"L","t":71,"y":-11.0,"l":-15.5,"h":-6.5},{"c":"L","t":74,"y":-8.5,"l":-12.5,"h":-4.5},{"c":"L","t":77,"y":-3.5,"l":-7.0,"h":0.0},{"c":"L","t":80,"y":1.0,"l":-2.0,"h":4.0},{"c":"L","t":84,"y":3.5,"l":0.5,"h":6.5},{"c":"L","t":88,"y":3.8,"l":0.8,"h":6.8},{"c":"L","t":93,"y":3.5,"l":0.5,"h":6.5},{"c":"L","t":100,"y":3.0,"l":0.0,"h":6.0},
{"c":"U","t":0,"y":7.5,"l":4.5,"h":10.5},{"c":"U","t":3,"y":6.5,"l":3.5,"h":9.5},{"c":"U","t":6,"y":5.5,"l":2.5,"h":8.5},{"c":"U","t":9,"y":6.8,"l":3.8,"h":9.8},{"c":"U","t":12,"y":9.5,"l":6.5,"h":12.5},{"c":"U","t":16,"y":12.0,"l":9.0,"h":15.0},{"c":"U","t":20,"y":13.8,"l":10.8,"h":16.8},{"c":"U","t":25,"y":15.0,"l":12.0,"h":18.0},{"c":"U","t":30,"y":16.3,"l":13.3,"h":19.3},{"c":"U","t":35,"y":17.5,"l":14.5,"h":20.5},{"c":"U","t":40,"y":19.0,"l":16.0,"h":22.0},{"c":"U","t":45,"y":20.5,"l":17.5,"h":23.5},{"c":"U","t":50,"y":22.0,"l":19.0,"h":25.0},{"c":"U","t":53,"y":22.0,"l":19.0,"h":25.0},{"c":"U","t":56,"y":19.5,"l":16.5,"h":22.5},{"c":"U","t":60,"y":12.0,"l":9.0,"h":15.0},{"c":"U","t":63,"y":3.0,"l":0.0,"h":6.0},{"c":"U","t":66,"y":-4.5,"l":-7.5,"h":-1.5},{"c":"U","t":69,"y":-10.0,"l":-13.0,"h":-7.0},{"c":"U","t":71,"y":-11.0,"l":-14.0,"h":-8.0},{"c":"U","t":74,"y":-8.0,"l":-11.0,"h":-5.0},{"c":"U","t":77,"y":-3.0,"l":-6.0,"h":0.0},{"c":"U","t":80,"y":1.5,"l":-1.5,"h":4.5},{"c":"U","t":84,"y":5.0,"l":2.0,"h":8.0},{"c":"U","t":88,"y":6.5,"l":3.5,"h":9.5},{"c":"U","t":93,"y":7.5,"l":4.5,"h":10.5},{"c":"U","t":100,"y":8.0,"l":5.0,"h":11.0},
{"c":"D","t":0,"y":0.5,"l":-2.0,"h":3.0},{"c":"D","t":3,"y":-2.5,"l":-5.0,"h":0.0},{"c":"D","t":7,"y":-4.8,"l":-7.3,"h":-2.3},{"c":"D","t":10,"y":-3.5,"l":-6.0,"h":-1.0},{"c":"D","t":13,"y":-0.5,"l":-3.0,"h":2.0},{"c":"D","t":17,"y":2.0,"l":-0.5,"h":4.5},{"c":"D","t":20,"y":3.5,"l":1.0,"h":6.0},{"c":"D","t":25,"y":5.5,"l":3.0,"h":8.0},{"c":"D","t":30,"y":7.5,"l":5.0,"h":10.0},{"c":"D","t":35,"y":9.5,"l":7.0,"h":12.0},{"c":"D","t":40,"y":11.5,"l":9.0,"h":14.0},{"c":"D","t":45,"y":14.0,"l":11.5,"h":16.5},{"c":"D","t":50,"y":17.0,"l":14.5,"h":19.5},{"c":"D","t":54,"y":19.0,"l":16.5,"h":21.5},{"c":"D","t":57,"y":18.0,"l":15.5,"h":20.5},{"c":"D","t":60,"y":12.0,"l":9.5,"h":14.5},{"c":"D","t":63,"y":4.0,"l":1.5,"h":6.5},{"c":"D","t":66,"y":-1.5,"l":-4.0,"h":1.0},{"c":"D","t":69,"y":-4.0,"l":-6.5,"h":-1.5},{"c":"D","t":71,"y":-4.2,"l":-6.7,"h":-1.7},{"c":"D","t":74,"y":-2.5,"l":-5.0,"h":0.0},{"c":"D","t":77,"y":0.0,"l":-2.5,"h":2.5},{"c":"D","t":80,"y":2.0,"l":-0.5,"h":4.5},{"c":"D","t":84,"y":3.5,"l":1.0,"h":6.0},{"c":"D","t":88,"y":3.5,"l":1.0,"h":6.0},{"c":"D","t":93,"y":2.5,"l":0.0,"h":5.0},{"c":"D","t":100,"y":1.0,"l":-1.5,"h":3.5}
],
"ankM":[
{"c":"L","t":0,"y":-0.05,"l":-0.12,"h":0.02},{"c":"L","t":3,"y":-0.08,"l":-0.2,"h":0.04},{"c":"L","t":5,"y":-0.05,"l":-0.2,"h":0.1},{"c":"L","t":8,"y":0.05,"l":-0.15,"h":0.25},{"c":"L","t":12,"y":0.18,"l":-0.05,"h":0.41},{"c":"L","t":16,"y":0.3,"l":0.06,"h":0.54},{"c":"L","t":20,"y":0.42,"l":0.18,"h":0.66},{"c":"L","t":25,"y":0.52,"l":0.28,"h":0.76},{"c":"L","t":30,"y":0.6,"l":0.35,"h":0.85},{"c":"L","t":35,"y":0.7,"l":0.43,"h":0.97},{"c":"L","t":40,"y":0.85,"l":0.56,"h":1.14},{"c":"L","t":45,"y":1.05,"l":0.73,"h":1.37},{"c":"L","t":49,"y":1.22,"l":0.87,"h":1.57},{"c":"L","t":52,"y":1.26,"l":0.9,"h":1.6},{"c":"L","t":55,"y":1.18,"l":0.85,"h":1.5},{"c":"L","t":58,"y":0.85,"l":0.6,"h":1.1},{"c":"L","t":61,"y":0.45,"l":0.3,"h":0.6},{"c":"L","t":64,"y":0.15,"l":0.08,"h":0.22},{"c":"L","t":67,"y":0.03,"l":0.0,"h":0.06},{"c":"L","t":70,"y":-0.02,"l":-0.04,"h":0.0},{"c":"L","t":75,"y":-0.02,"l":-0.04,"h":0.0},{"c":"L","t":80,"y":-0.01,"l":-0.03,"h":0.01},{"c":"L","t":90,"y":0.0,"l":-0.02,"h":0.02},{"c":"L","t":96,"y":0.03,"l":0.01,"h":0.05},{"c":"L","t":100,"y":-0.02,"l":-0.04,"h":0.0},
{"c":"U","t":0,"y":-0.03,"l":-0.08,"h":0.02},{"c":"U","t":2,"y":-0.05,"l":-0.1,"h":0.0},{"c":"U","t":5,"y":-0.02,"l":-0.1,"h":0.06},{"c":"U","t":8,"y":0.08,"l":-0.02,"h":0.18},{"c":"U","t":12,"y":0.2,"l":0.08,"h":0.32},{"c":"U","t":16,"y":0.33,"l":0.19,"h":0.47},{"c":"U","t":20,"y":0.45,"l":0.3,"h":0.6},{"c":"U","t":25,"y":0.54,"l":0.38,"h":0.7},{"c":"U","t":30,"y":0.6,"l":0.42,"h":0.78},{"c":"U","t":35,"y":0.7,"l":0.5,"h":0.9},{"c":"U","t":40,"y":0.88,"l":0.65,"h":1.11},{"c":"U","t":45,"y":1.15,"l":0.85,"h":1.45},{"c":"U","t":49,"y":1.38,"l":1.05,"h":1.71},{"c":"U","t":52,"y":1.47,"l":1.12,"h":1.83},{"c":"U","t":55,"y":1.38,"l":1.05,"h":1.71},{"c":"U","t":58,"y":1.0,"l":0.75,"h":1.25},{"c":"U","t":61,"y":0.55,"l":0.38,"h":0.72},{"c":"U","t":64,"y":0.2,"l":0.12,"h":0.28},{"c":"U","t":67,"y":0.05,"l":0.02,"h":0.08},{"c":"U","t":70,"y":-0.01,"l":-0.03,"h":0.01},{"c":"U","t":75,"y":-0.02,"l":-0.04,"h":0.0},{"c":"U","t":80,"y":-0.01,"l":-0.03,"h":0.01},{"c":"U","t":90,"y":0.0,"l":-0.02,"h":0.02},{"c":"U","t":96,"y":0.03,"l":0.01,"h":0.05},{"c":"U","t":100,"y":-0.02,"l":-0.04,"h":0.0},
{"c":"D","t":0,"y":-0.05,"l":-0.1,"h":0.0},{"c":"D","t":3,"y":-0.1,"l":-0.16,"h":-0.04},{"c":"D","t":5,"y":-0.08,"l":-0.15,"h":-0.01},{"c":"D","t":8,"y":0.08,"l":0.0,"h":0.16},{"c":"D","t":12,"y":0.25,"l":0.15,"h":0.35},{"c":"D","t":16,"y":0.38,"l":0.27,"h":0.49},{"c":"D","t":20,"y":0.47,"l":0.35,"h":0.59},{"c":"D","t":25,"y":0.52,"l":0.39,"h":0.65},{"c":"D","t":30,"y":0.6,"l":0.45,"h":0.75},{"c":"D","t":35,"y":0.7,"l":0.54,"h":0.86},{"c":"D","t":40,"y":0.82,"l":0.65,"h":0.99},{"c":"D","t":45,"y":0.97,"l":0.78,"h":1.16},{"c":"D","t":49,"y":1.07,"l":0.86,"h":1.28},{"c":"D","t":51,"y":1.08,"l":0.86,"h":1.3},{"c":"D","t":54,"y":1.0,"l":0.8,"h":1.2},{"c":"D","t":57,"y":0.75,"l":0.58,"h":0.92},{"c":"D","t":60,"y":0.4,"l":0.28,"h":0.52},{"c":"D","t":63,"y":0.15,"l":0.08,"h":0.22},{"c":"D","t":66,"y":0.03,"l":0.0,"h":0.06},{"c":"D","t":70,"y":-0.02,"l":-0.04,"h":0.0},{"c":"D","t":75,"y":-0.02,"l":-0.04,"h":0.0},{"c":"D","t":80,"y":-0.01,"l":-0.03,"h":0.01},{"c":"D","t":90,"y":0.0,"l":-0.02,"h":0.02},{"c":"D","t":96,"y":0.03,"l":0.01,"h":0.05},{"c":"D","t":100,"y":-0.02,"l":-0.04,"h":0.0}
],
"ilio":[
{"c":"L","t":0,"y":0.05,"l":0,"h":0.12},{"c":"L","t":10,"y":0.02,"l":0,"h":0.06},{"c":"L","t":20,"y":0.02,"l":0,"h":0.08},{"c":"L","t":30,"y":0.05,"l":0,"h":0.15},{"c":"L","t":35,"y":0.1,"l":0,"h":0.25},{"c":"L","t":40,"y":0.25,"l":0.05,"h":0.5},{"c":"L","t":45,"y":0.55,"l":0.2,"h":0.95},{"c":"L","t":50,"y":0.75,"l":0.35,"h":1.2},{"c":"L","t":53,"y":0.6,"l":0.3,"h":0.95},{"c":"L","t":56,"y":0.3,"l":0.1,"h":0.5},{"c":"L","t":59,"y":0.1,"l":0.02,"h":0.2},{"c":"L","t":62,"y":0.3,"l":0.1,"h":0.7},{"c":"L","t":64,"y":0.9,"l":0.4,"h":1.6},{"c":"L","t":66,"y":1.6,"l":0.9,"h":2.4},{"c":"L","t":68,"y":2.1,"l":1.4,"h":2.85},{"c":"L","t":70,"y":2.15,"l":1.45,"h":2.9},{"c":"L","t":72,"y":1.95,"l":1.3,"h":2.7},{"c":"L","t":75,"y":1.7,"l":1.1,"h":2.35},{"c":"L","t":80,"y":1.6,"l":1.0,"h":2.3},{"c":"L","t":85,"y":1.35,"l":0.6,"h":2.15},{"c":"L","t":90,"y":0.9,"l":0.2,"h":1.7},{"c":"L","t":95,"y":0.35,"l":0.0,"h":0.9},{"c":"L","t":100,"y":0.02,"l":0,"h":0.1},
{"c":"U","t":0,"y":0.08,"l":0,"h":0.18},{"c":"U","t":10,"y":0.02,"l":0,"h":0.06},{"c":"U","t":20,"y":0.05,"l":0,"h":0.2},{"c":"U","t":30,"y":0.12,"l":0,"h":0.45},{"c":"U","t":35,"y":0.18,"l":0,"h":0.7},{"c":"U","t":40,"y":0.25,"l":0,"h":1.1},{"c":"U","t":45,"y":0.45,"l":0.05,"h":1.6},{"c":"U","t":50,"y":0.65,"l":0.15,"h":1.9},{"c":"U","t":53,"y":0.55,"l":0.15,"h":1.5},{"c":"U","t":56,"y":0.35,"l":0.1,"h":0.8},{"c":"U","t":59,"y":0.15,"l":0.03,"h":0.35},{"c":"U","t":62,"y":0.3,"l":0.08,"h":0.6},{"c":"U","t":65,"y":1.0,"l":0.5,"h":1.6},{"c":"U","t":67,"y":1.7,"l":1.1,"h":2.3},{"c":"U","t":69,"y":2.1,"l":1.6,"h":2.6},{"c":"U","t":71,"y":2.05,"l":1.6,"h":2.5},{"c":"U","t":75,"y":1.75,"l":1.35,"h":2.15},{"c":"U","t":80,"y":1.65,"l":1.3,"h":2.05},{"c":"U","t":85,"y":1.55,"l":1.1,"h":2.0},{"c":"U","t":90,"y":1.25,"l":0.7,"h":1.8},{"c":"U","t":94,"y":0.8,"l":0.3,"h":1.35},{"c":"U","t":97,"y":0.4,"l":0.05,"h":0.8},{"c":"U","t":100,"y":0.1,"l":0,"h":0.25},
{"c":"D","t":0,"y":0.05,"l":0,"h":0.12},{"c":"D","t":5,"y":0.02,"l":0,"h":0.06},{"c":"D","t":9,"y":0.05,"l":0,"h":0.25},{"c":"D","t":12,"y":0.15,"l":0,"h":0.6},{"c":"D","t":20,"y":0.2,"l":0,"h":0.7},{"c":"D","t":30,"y":0.25,"l":0,"h":0.65},{"c":"D","t":35,"y":0.3,"l":0,"h":0.8},{"c":"D","t":40,"y":0.5,"l":0.05,"h":1.3},{"c":"D","t":44,"y":0.85,"l":0.25,"h":1.9},{"c":"D","t":47,"y":1.15,"l":0.4,"h":2.4},{"c":"D","t":50,"y":1.1,"l":0.4,"h":2.2},{"c":"D","t":53,"y":0.75,"l":0.3,"h":1.4},{"c":"D","t":56,"y":0.35,"l":0.1,"h":0.7},{"c":"D","t":59,"y":0.12,"l":0.02,"h":0.3},{"c":"D","t":61,"y":0.25,"l":0.05,"h":0.6},{"c":"D","t":63,"y":1.2,"l":0.5,"h":2.0},{"c":"D","t":65,"y":2.0,"l":1.3,"h":2.7},{"c":"D","t":67,"y":2.35,"l":1.7,"h":2.95},{"c":"D","t":69,"y":2.15,"l":1.6,"h":2.75},{"c":"D","t":72,"y":1.7,"l":1.2,"h":2.3},{"c":"D","t":75,"y":1.5,"l":1.0,"h":2.1},{"c":"D","t":80,"y":1.38,"l":0.9,"h":1.95},{"c":"D","t":85,"y":1.2,"l":0.65,"h":1.8},{"c":"D","t":90,"y":0.8,"l":0.3,"h":1.4},{"c":"D","t":94,"y":0.35,"l":0.05,"h":0.8},{"c":"D","t":97,"y":0.1,"l":0,"h":0.35},{"c":"D","t":100,"y":0.02,"l":0,"h":0.1}
],
"glut":[
{"c":"L","t":0,"y":2.8,"l":2.3,"h":3.3},{"c":"L","t":4,"y":3.3,"l":2.5,"h":4.2},{"c":"L","t":8,"y":3.5,"l":2.5,"h":4.6},{"c":"L","t":12,"y":3.1,"l":2.2,"h":4.2},{"c":"L","t":17,"y":3.0,"l":2.0,"h":4.0},{"c":"L","t":22,"y":2.6,"l":1.7,"h":3.6},{"c":"L","t":27,"y":2.1,"l":1.3,"h":3.0},{"c":"L","t":32,"y":1.6,"l":0.9,"h":2.4},{"c":"L","t":37,"y":1.35,"l":0.7,"h":2.0},{"c":"L","t":42,"y":1.1,"l":0.6,"h":1.6},{"c":"L","t":47,"y":0.75,"l":0.4,"h":1.15},{"c":"L","t":51,"y":0.55,"l":0.3,"h":0.85},{"c":"L","t":54,"y":0.7,"l":0.4,"h":1.0},{"c":"L","t":57,"y":0.95,"l":0.6,"h":1.3},{"c":"L","t":60,"y":0.7,"l":0.4,"h":1.0},{"c":"L","t":63,"y":0.25,"l":0.1,"h":0.45},{"c":"L","t":67,"y":0.05,"l":0,"h":0.12},{"c":"L","t":75,"y":0,"l":0,"h":0.05},{"c":"L","t":85,"y":0,"l":0,"h":0.05},{"c":"L","t":90,"y":0.1,"l":0,"h":0.3},{"c":"L","t":94,"y":0.8,"l":0.3,"h":1.3},{"c":"L","t":97,"y":1.8,"l":1.2,"h":2.4},{"c":"L","t":100,"y":2.8,"l":2.1,"h":3.5},
{"c":"U","t":0,"y":2.9,"l":2.1,"h":3.7},{"c":"U","t":3,"y":4.2,"l":2.8,"h":5.6},{"c":"U","t":6,"y":5.1,"l":3.3,"h":6.9},{"c":"U","t":9,"y":5.5,"l":3.6,"h":7.4},{"c":"U","t":13,"y":5.75,"l":3.8,"h":7.8},{"c":"U","t":17,"y":5.5,"l":3.6,"h":7.5},{"c":"U","t":22,"y":4.7,"l":3.0,"h":6.8},{"c":"U","t":27,"y":3.9,"l":2.5,"h":5.9},{"c":"U","t":32,"y":3.3,"l":2.1,"h":5.0},{"c":"U","t":37,"y":2.9,"l":1.8,"h":4.3},{"c":"U","t":42,"y":2.4,"l":1.4,"h":3.6},{"c":"U","t":47,"y":1.5,"l":0.8,"h":2.4},{"c":"U","t":51,"y":1.0,"l":0.5,"h":1.6},{"c":"U","t":54,"y":0.9,"l":0.4,"h":1.4},{"c":"U","t":57,"y":1.1,"l":0.6,"h":1.6},{"c":"U","t":60,"y":0.8,"l":0.4,"h":1.2},{"c":"U","t":63,"y":0.3,"l":0.1,"h":0.5},{"c":"U","t":67,"y":0.05,"l":0,"h":0.12},{"c":"U","t":75,"y":0,"l":0,"h":0.05},{"c":"U","t":85,"y":0,"l":0,"h":0.05},{"c":"U","t":90,"y":0.05,"l":0,"h":0.15},{"c":"U","t":95,"y":0.4,"l":0.1,"h":0.8},{"c":"U","t":100,"y":2.1,"l":1.0,"h":3.2},
{"c":"D","t":0,"y":2.7,"l":2.1,"h":3.2},{"c":"D","t":5,"y":2.65,"l":1.8,"h":3.5},{"c":"D","t":9,"y":2.5,"l":1.4,"h":3.6},{"c":"D","t":13,"y":1.9,"l":1.0,"h":2.9},{"c":"D","t":18,"y":1.6,"l":0.8,"h":2.5},{"c":"D","t":23,"y":1.0,"l":0.4,"h":1.7},{"c":"D","t":28,"y":0.75,"l":0.25,"h":1.3},{"c":"D","t":33,"y":0.6,"l":0.2,"h":1.05},{"c":"D","t":38,"y":0.55,"l":0.2,"h":0.95},{"c":"D","t":43,"y":0.45,"l":0.15,"h":0.8},{"c":"D","t":48,"y":0.35,"l":0.1,"h":0.65},{"c":"D","t":52,"y":0.4,"l":0.15,"h":0.7},{"c":"D","t":55,"y":0.6,"l":0.3,"h":0.95},{"c":"D","t":58,"y":0.8,"l":0.45,"h":1.15},{"c":"D","t":61,"y":0.5,"l":0.25,"h":0.8},{"c":"D","t":64,"y":0.2,"l":0.05,"h":0.4},{"c":"D","t":67,"y":0.05,"l":0,"h":0.12},{"c":"D","t":75,"y":0,"l":0,"h":0.05},{"c":"D","t":85,"y":0,"l":0,"h":0.05},{"c":"D","t":90,"y":0.1,"l":0,"h":0.3},{"c":"D","t":94,"y":0.8,"l":0.3,"h":1.3},{"c":"D","t":97,"y":1.8,"l":1.2,"h":2.4},{"c":"D","t":100,"y":2.7,"l":2.0,"h":3.4}
],
"hams":[
{"c":"L","t":0,"y":3.2,"l":2.6,"h":3.6},{"c":"L","t":4,"y":2.9,"l":2.2,"h":3.6},{"c":"L","t":8,"y":2.7,"l":1.8,"h":3.6},{"c":"L","t":12,"y":2.4,"l":1.6,"h":3.4},{"c":"L","t":16,"y":2.1,"l":1.3,"h":3.1},{"c":"L","t":20,"y":2.05,"l":1.2,"h":3.0},{"c":"L","t":25,"y":1.7,"l":0.9,"h":2.6},{"c":"L","t":30,"y":1.4,"l":0.7,"h":2.2},{"c":"L","t":35,"y":1.15,"l":0.5,"h":1.9},{"c":"L","t":40,"y":1.05,"l":0.4,"h":1.8},{"c":"L","t":45,"y":0.85,"l":0.3,"h":1.5},{"c":"L","t":50,"y":0.55,"l":0.2,"h":1.1},{"c":"L","t":54,"y":0.5,"l":0.2,"h":1.0},{"c":"L","t":57,"y":0.7,"l":0.3,"h":1.1},{"c":"L","t":60,"y":0.5,"l":0.2,"h":0.8},{"c":"L","t":63,"y":0.15,"l":0.05,"h":0.3},{"c":"L","t":67,"y":0.02,"l":0,"h":0.06},{"c":"L","t":75,"y":0,"l":0,"h":0.03},{"c":"L","t":85,"y":0.03,"l":0,"h":0.1},{"c":"L","t":90,"y":0.3,"l":0.1,"h":0.6},{"c":"L","t":94,"y":1.5,"l":0.9,"h":2.2},{"c":"L","t":97,"y":3.0,"l":2.2,"h":3.8},{"c":"L","t":100,"y":3.3,"l":2.5,"h":4.1},
{"c":"U","t":0,"y":3.85,"l":2.9,"h":4.8},{"c":"U","t":5,"y":4.1,"l":2.6,"h":5.7},{"c":"U","t":10,"y":4.35,"l":2.4,"h":6.4},{"c":"U","t":15,"y":4.45,"l":2.3,"h":6.85},{"c":"U","t":20,"y":4.2,"l":2.1,"h":6.6},{"c":"U","t":25,"y":3.85,"l":1.9,"h":6.2},{"c":"U","t":30,"y":3.55,"l":1.7,"h":5.9},{"c":"U","t":35,"y":3.25,"l":1.45,"h":5.55},{"c":"U","t":40,"y":3.1,"l":1.2,"h":5.3},{"c":"U","t":45,"y":2.75,"l":1.05,"h":5.1},{"c":"U","t":50,"y":2.4,"l":0.9,"h":4.9},{"c":"U","t":55,"y":2.2,"l":0.6,"h":4.6},{"c":"U","t":58,"y":1.7,"l":0.5,"h":3.1},{"c":"U","t":61,"y":0.8,"l":0.2,"h":1.4},{"c":"U","t":64,"y":0.2,"l":0.05,"h":0.4},{"c":"U","t":67,"y":0.02,"l":0,"h":0.06},{"c":"U","t":75,"y":0,"l":0,"h":0.03},{"c":"U","t":82,"y":0.03,"l":0,"h":0.1},{"c":"U","t":86,"y":0.15,"l":0.02,"h":0.35},{"c":"U","t":90,"y":0.5,"l":0.1,"h":1.0},{"c":"U","t":94,"y":1.5,"l":0.6,"h":2.6},{"c":"U","t":97,"y":3.0,"l":1.8,"h":4.6},{"c":"U","t":100,"y":4.0,"l":2.8,"h":5.8},
{"c":"D","t":0,"y":3.1,"l":2.4,"h":3.5},{"c":"D","t":3,"y":2.6,"l":1.8,"h":3.3},{"c":"D","t":6,"y":2.0,"l":1.1,"h":2.9},{"c":"D","t":10,"y":1.4,"l":0.4,"h":2.4},{"c":"D","t":14,"y":0.95,"l":0.1,"h":1.8},{"c":"D","t":18,"y":0.75,"l":0,"h":1.5},{"c":"D","t":22,"y":0.55,"l":0,"h":1.2},{"c":"D","t":26,"y":0.4,"l":0,"h":0.95},{"c":"D","t":30,"y":0.3,"l":0,"h":0.75},{"c":"D","t":35,"y":0.25,"l":0,"h":0.6},{"c":"D","t":40,"y":0.2,"l":0,"h":0.5},{"c":"D","t":45,"y":0.15,"l":0,"h":0.45},{"c":"D","t":50,"y":0.2,"l":0,"h":0.5},{"c":"D","t":55,"y":0.35,"l":0.1,"h":0.6},{"c":"D","t":58,"y":0.35,"l":0.1,"h":0.6},{"c":"D","t":61,"y":0.2,"l":0.05,"h":0.4},{"c":"D","t":64,"y":0.05,"l":0,"h":0.15},{"c":"D","t":67,"y":0,"l":0,"h":0.04},{"c":"D","t":75,"y":0,"l":0,"h":0.03},{"c":"D","t":85,"y":0.03,"l":0,"h":0.1},{"c":"D","t":90,"y":0.3,"l":0.1,"h":0.6},{"c":"D","t":94,"y":1.5,"l":0.9,"h":2.2},{"c":"D","t":97,"y":3.1,"l":2.3,"h":3.9},{"c":"D","t":100,"y":3.3,"l":2.5,"h":4.1}
],
"rf":[
{"c":"L","t":0,"y":0,"l":0,"h":0.02},{"c":"L","t":7,"y":0.02,"l":0,"h":0.06},{"c":"L","t":10,"y":0.1,"l":0,"h":0.25},{"c":"L","t":14,"y":0.22,"l":0.05,"h":0.45},{"c":"L","t":18,"y":0.3,"l":0.08,"h":0.55},{"c":"L","t":22,"y":0.3,"l":0.08,"h":0.55},{"c":"L","t":26,"y":0.25,"l":0.05,"h":0.5},{"c":"L","t":30,"y":0.2,"l":0.03,"h":0.45},{"c":"L","t":35,"y":0.2,"l":0.03,"h":0.45},{"c":"L","t":40,"y":0.25,"l":0.05,"h":0.5},{"c":"L","t":45,"y":0.35,"l":0.1,"h":0.65},{"c":"L","t":49,"y":0.5,"l":0.2,"h":0.85},{"c":"L","t":51,"y":0.52,"l":0.22,"h":0.85},{"c":"L","t":54,"y":0.4,"l":0.15,"h":0.7},{"c":"L","t":57,"y":0.2,"l":0.05,"h":0.4},{"c":"L","t":60,"y":0.12,"l":0.03,"h":0.3},{"c":"L","t":62,"y":0.5,"l":0.15,"h":1.0},{"c":"L","t":64,"y":1.3,"l":0.7,"h":1.9},{"c":"L","t":65.5,"y":1.42,"l":0.8,"h":2.05},{"c":"L","t":67,"y":1.35,"l":0.8,"h":1.95},{"c":"L","t":69,"y":1.25,"l":0.75,"h":1.85},{"c":"L","t":71,"y":1.3,"l":0.8,"h":1.9},{"c":"L","t":73,"y":1.2,"l":0.7,"h":1.8},{"c":"L","t":76,"y":0.7,"l":0.35,"h":1.1},{"c":"L","t":79,"y":0.3,"l":0.1,"h":0.55},{"c":"L","t":83,"y":0.05,"l":0,"h":0.15},{"c":"L","t":90,"y":0,"l":0,"h":0.02},{"c":"L","t":100,"y":0.02,"l":0,"h":0.05},
{"c":"U","t":0,"y":0,"l":0,"h":0.02},{"c":"U","t":7,"y":0.02,"l":0,"h":0.06},{"c":"U","t":10,"y":0.08,"l":0,"h":0.3},{"c":"U","t":14,"y":0.15,"l":0,"h":0.45},{"c":"U","t":18,"y":0.2,"l":0,"h":0.5},{"c":"U","t":22,"y":0.21,"l":0,"h":0.52},{"c":"U","t":30,"y":0.2,"l":0,"h":0.52},{"c":"U","t":35,"y":0.18,"l":0,"h":0.55},{"c":"U","t":40,"y":0.18,"l":0,"h":0.6},{"c":"U","t":45,"y":0.2,"l":0.02,"h":0.7},{"c":"U","t":50,"y":0.22,"l":0.05,"h":0.8},{"c":"U","t":55,"y":0.23,"l":0.05,"h":0.65},{"c":"U","t":58,"y":0.2,"l":0.05,"h":0.45},{"c":"U","t":60,"y":0.15,"l":0.03,"h":0.35},{"c":"U","t":62,"y":0.4,"l":0.15,"h":0.9},{"c":"U","t":64,"y":0.85,"l":0.45,"h":1.35},{"c":"U","t":67,"y":1.0,"l":0.6,"h":1.5},{"c":"U","t":69,"y":1.15,"l":0.7,"h":1.65},{"c":"U","t":71,"y":1.35,"l":0.85,"h":1.8},{"c":"U","t":72.5,"y":1.42,"l":0.9,"h":1.85},{"c":"U","t":74,"y":1.35,"l":0.85,"h":1.8},{"c":"U","t":76,"y":1.05,"l":0.6,"h":1.5},{"c":"U","t":78,"y":0.6,"l":0.3,"h":0.95},{"c":"U","t":81,"y":0.25,"l":0.08,"h":0.45},{"c":"U","t":85,"y":0.05,"l":0,"h":0.15},{"c":"U","t":90,"y":0,"l":0,"h":0.02},{"c":"U","t":100,"y":0,"l":0,"h":0.02},
{"c":"D","t":0,"y":0.02,"l":0,"h":0.05},{"c":"D","t":5,"y":0.05,"l":0,"h":0.12},{"c":"D","t":8,"y":0.15,"l":0.02,"h":0.4},{"c":"D","t":11,"y":0.45,"l":0.1,"h":0.95},{"c":"D","t":14,"y":0.75,"l":0.25,"h":1.3},{"c":"D","t":17,"y":0.85,"l":0.3,"h":1.45},{"c":"D","t":20,"y":0.87,"l":0.32,"h":1.47},{"c":"D","t":25,"y":0.8,"l":0.28,"h":1.38},{"c":"D","t":30,"y":0.7,"l":0.22,"h":1.25},{"c":"D","t":35,"y":0.62,"l":0.18,"h":1.2},{"c":"D","t":38,"y":0.6,"l":0.18,"h":1.2},{"c":"D","t":42,"y":0.72,"l":0.25,"h":1.35},{"c":"D","t":46,"y":0.95,"l":0.4,"h":1.55},{"c":"D","t":49,"y":1.03,"l":0.45,"h":1.62},{"c":"D","t":52,"y":0.9,"l":0.4,"h":1.45},{"c":"D","t":55,"y":0.5,"l":0.2,"h":0.9},{"c":"D","t":58,"y":0.2,"l":0.05,"h":0.4},{"c":"D","t":60,"y":0.15,"l":0.03,"h":0.35},{"c":"D","t":62,"y":0.8,"l":0.3,"h":1.4},{"c":"D","t":63.5,"y":1.4,"l":0.8,"h":1.95},{"c":"D","t":66,"y":1.3,"l":0.8,"h":1.85},{"c":"D","t":68,"y":1.15,"l":0.7,"h":1.7},{"c":"D","t":70,"y":1.3,"l":0.8,"h":1.8},{"c":"D","t":72,"y":1.25,"l":0.75,"h":1.75},{"c":"D","t":74,"y":0.9,"l":0.5,"h":1.35},{"c":"D","t":77,"y":0.4,"l":0.15,"h":0.7},{"c":"D","t":80,"y":0.15,"l":0.03,"h":0.3},{"c":"D","t":85,"y":0.02,"l":0,"h":0.06},{"c":"D","t":90,"y":0,"l":0,"h":0.02},{"c":"D","t":95,"y":0.02,"l":0,"h":0.05},{"c":"D","t":100,"y":0.02,"l":0,"h":0.05}
],
"vas":[
{"c":"L","t":0,"y":2.5,"l":1.8,"h":3.2},{"c":"L","t":4,"y":4.0,"l":2.8,"h":5.2},{"c":"L","t":8,"y":7.0,"l":4.8,"h":9.2},{"c":"L","t":11,"y":9.8,"l":6.5,"h":13.0},{"c":"L","t":14,"y":11.3,"l":7.0,"h":15.5},{"c":"L","t":17,"y":11.0,"l":6.8,"h":15.2},{"c":"L","t":21,"y":9.8,"l":5.8,"h":13.8},{"c":"L","t":26,"y":8.0,"l":4.3,"h":11.7},{"c":"L","t":31,"y":6.3,"l":3.0,"h":9.6},{"c":"L","t":36,"y":5.0,"l":2.0,"h":8.0},{"c":"L","t":41,"y":3.8,"l":1.2,"h":6.4},{"c":"L","t":46,"y":3.2,"l":0.6,"h":5.8},{"c":"L","t":50,"y":2.8,"l":0.4,"h":5.2},{"c":"L","t":54,"y":2.8,"l":0.4,"h":5.0},{"c":"L","t":58,"y":2.8,"l":0.5,"h":4.8},{"c":"L","t":61,"y":2.5,"l":0.6,"h":4.2},{"c":"L","t":64,"y":1.0,"l":0.3,"h":1.7},{"c":"L","t":67,"y":0.3,"l":0.1,"h":0.5},{"c":"L","t":72,"y":0.2,"l":0,"h":0.4},{"c":"L","t":78,"y":0.8,"l":0.3,"h":1.3},{"c":"L","t":83,"y":0.6,"l":0.2,"h":1.0},{"c":"L","t":88,"y":0.3,"l":0.1,"h":0.5},{"c":"L","t":93,"y":0.3,"l":0.1,"h":0.5},{"c":"L","t":97,"y":1.2,"l":0.5,"h":1.9},{"c":"L","t":100,"y":2.7,"l":1.6,"h":3.8},
{"c":"U","t":0,"y":0.5,"l":0.2,"h":0.8},{"c":"U","t":4,"y":3.0,"l":1.8,"h":4.2},{"c":"U","t":8,"y":7.5,"l":5.0,"h":10.0},{"c":"U","t":11,"y":11.5,"l":8.0,"h":15.5},{"c":"U","t":14,"y":14.8,"l":10.3,"h":19.5},{"c":"U","t":16,"y":15.0,"l":10.5,"h":20.0},{"c":"U","t":19,"y":14.2,"l":10.0,"h":18.8},{"c":"U","t":23,"y":12.0,"l":8.3,"h":16.0},{"c":"U","t":28,"y":9.5,"l":6.3,"h":13.0},{"c":"U","t":33,"y":7.3,"l":4.5,"h":10.5},{"c":"U","t":38,"y":5.3,"l":3.0,"h":8.0},{"c":"U","t":43,"y":3.8,"l":1.8,"h":6.2},{"c":"U","t":48,"y":2.3,"l":0.8,"h":4.3},{"c":"U","t":52,"y":1.5,"l":0.4,"h":3.0},{"c":"U","t":56,"y":1.2,"l":0.3,"h":2.4},{"c":"U","t":60,"y":1.8,"l":0.6,"h":3.0},{"c":"U","t":62,"y":1.5,"l":0.5,"h":2.5},{"c":"U","t":65,"y":0.6,"l":0.2,"h":1.0},{"c":"U","t":70,"y":0.2,"l":0,"h":0.4},{"c":"U","t":75,"y":0.3,"l":0.1,"h":0.5},{"c":"U","t":80,"y":0.4,"l":0.1,"h":0.7},{"c":"U","t":85,"y":0.3,"l":0.1,"h":0.5},{"c":"U","t":90,"y":0.2,"l":0,"h":0.4},{"c":"U","t":95,"y":0.2,"l":0,"h":0.4},{"c":"U","t":100,"y":0.3,"l":0.1,"h":0.5},
{"c":"D","t":0,"y":2.8,"l":2.0,"h":3.6},{"c":"D","t":4,"y":4.5,"l":3.3,"h":5.7},{"c":"D","t":8,"y":8.5,"l":6.5,"h":10.5},{"c":"D","t":11,"y":12.5,"l":10.0,"h":15.2},{"c":"D","t":14,"y":15.3,"l":12.3,"h":18.3},{"c":"D","t":17,"y":15.2,"l":12.2,"h":18.2},{"c":"D","t":20,"y":14.2,"l":11.3,"h":17.2},{"c":"D","t":25,"y":12.0,"l":9.2,"h":15.0},{"c":"D","t":30,"y":10.2,"l":7.5,"h":13.0},{"c":"D","t":35,"y":8.8,"l":6.3,"h":11.5},{"c":"D","t":40,"y":8.0,"l":5.6,"h":10.6},{"c":"D","t":45,"y":7.7,"l":5.3,"h":10.3},{"c":"D","t":50,"y":7.7,"l":5.4,"h":10.2},{"c":"D","t":53,"y":7.9,"l":5.6,"h":10.3},{"c":"D","t":56,"y":7.3,"l":5.0,"h":9.6},{"c":"D","t":59,"y":5.5,"l":3.5,"h":7.5},{"c":"D","t":62,"y":3.0,"l":1.6,"h":4.4},{"c":"D","t":64,"y":1.3,"l":0.6,"h":2.0},{"c":"D","t":67,"y":0.4,"l":0.1,"h":0.7},{"c":"D","t":70,"y":0.2,"l":0,"h":0.4},{"c":"D","t":75,"y":0.4,"l":0.1,"h":0.7},{"c":"D","t":80,"y":0.7,"l":0.3,"h":1.1},{"c":"D","t":85,"y":0.5,"l":0.2,"h":0.8},{"c":"D","t":90,"y":0.3,"l":0.1,"h":0.5},{"c":"D","t":95,"y":0.5,"l":0.2,"h":0.8},{"c":"D","t":98,"y":2.0,"l":1.0,"h":3.5},{"c":"D","t":100,"y":2.8,"l":1.5,"h":4.2}
],
"gas":[
{"c":"L","t":0,"y":0,"l":0,"h":0.1},{"c":"L","t":5,"y":0.1,"l":0,"h":0.3},{"c":"L","t":10,"y":0.35,"l":0,"h":0.8},{"c":"L","t":15,"y":0.7,"l":0.1,"h":1.6},{"c":"L","t":20,"y":1.4,"l":0.3,"h":2.9},{"c":"L","t":25,"y":2.2,"l":0.7,"h":4.0},{"c":"L","t":30,"y":3.0,"l":1.3,"h":5.1},{"c":"L","t":35,"y":3.9,"l":2.0,"h":6.1},{"c":"L","t":40,"y":5.0,"l":2.8,"h":7.1},{"c":"L","t":45,"y":6.3,"l":4.1,"h":8.2},{"c":"L","t":49,"y":7.0,"l":5.0,"h":8.8},{"c":"L","t":52,"y":6.7,"l":4.9,"h":8.4},{"c":"L","t":56,"y":5.0,"l":3.5,"h":6.6},{"c":"L","t":60,"y":2.5,"l":1.4,"h":3.6},{"c":"L","t":63,"y":0.8,"l":0.3,"h":1.3},{"c":"L","t":66,"y":0.2,"l":0,"h":0.4},{"c":"L","t":70,"y":0,"l":0,"h":0.1},{"c":"L","t":80,"y":0.1,"l":0,"h":0.3},{"c":"L","t":90,"y":0.3,"l":0,"h":0.7},{"c":"L","t":100,"y":0.2,"l":0,"h":0.5},
{"c":"U","t":0,"y":0,"l":0,"h":0.1},{"c":"U","t":5,"y":0.1,"l":0,"h":0.2},{"c":"U","t":10,"y":0.3,"l":0.1,"h":0.5},{"c":"U","t":15,"y":0.7,"l":0.3,"h":1.1},{"c":"U","t":20,"y":1.3,"l":0.7,"h":1.9},{"c":"U","t":25,"y":2.1,"l":1.3,"h":2.9},{"c":"U","t":30,"y":3.0,"l":1.9,"h":4.1},{"c":"U","t":35,"y":4.0,"l":2.6,"h":5.4},{"c":"U","t":40,"y":5.1,"l":3.4,"h":6.8},{"c":"U","t":45,"y":6.8,"l":4.6,"h":9.0},{"c":"U","t":48,"y":8.2,"l":5.8,"h":10.9},{"c":"U","t":51,"y":9.0,"l":6.5,"h":12.1},{"c":"U","t":54,"y":8.3,"l":5.9,"h":10.9},{"c":"U","t":57,"y":5.8,"l":4.0,"h":7.6},{"c":"U","t":60,"y":3.0,"l":1.8,"h":4.2},{"c":"U","t":63,"y":1.0,"l":0.5,"h":1.5},{"c":"U","t":66,"y":0.2,"l":0,"h":0.4},{"c":"U","t":70,"y":0,"l":0,"h":0.1},{"c":"U","t":80,"y":0.2,"l":0,"h":0.5},{"c":"U","t":90,"y":0.5,"l":0.1,"h":1.0},{"c":"U","t":95,"y":0.5,"l":0.1,"h":0.9},{"c":"U","t":100,"y":0.2,"l":0,"h":0.4},
{"c":"D","t":0,"y":0,"l":0,"h":0.1},{"c":"D","t":5,"y":0.1,"l":0,"h":0.2},{"c":"D","t":10,"y":0.3,"l":0.1,"h":0.5},{"c":"D","t":15,"y":0.7,"l":0.3,"h":1.1},{"c":"D","t":20,"y":1.3,"l":0.7,"h":1.9},{"c":"D","t":25,"y":2.1,"l":1.3,"h":2.9},{"c":"D","t":30,"y":2.9,"l":1.9,"h":3.9},{"c":"D","t":35,"y":3.8,"l":2.6,"h":5.0},{"c":"D","t":40,"y":4.7,"l":3.2,"h":6.2},{"c":"D","t":45,"y":5.4,"l":3.6,"h":7.2},{"c":"D","t":48,"y":5.6,"l":3.7,"h":7.5},{"c":"D","t":51,"y":5.4,"l":3.6,"h":7.2},{"c":"D","t":55,"y":4.3,"l":2.8,"h":5.8},{"c":"D","t":58,"y":2.5,"l":1.5,"h":3.5},{"c":"D","t":61,"y":1.0,"l":0.5,"h":1.5},{"c":"D","t":64,"y":0.2,"l":0,"h":0.4},{"c":"D","t":68,"y":0,"l":0,"h":0.1},{"c":"D","t":80,"y":0.1,"l":0,"h":0.2},{"c":"D","t":90,"y":0.2,"l":0,"h":0.4},{"c":"D","t":100,"y":0.1,"l":0,"h":0.3}
],
"sol":[
{"c":"L","t":0,"y":0,"l":0,"h":0.2},{"c":"L","t":4,"y":0.1,"l":0,"h":0.5},{"c":"L","t":8,"y":1.0,"l":0,"h":2.5},{"c":"L","t":12,"y":2.8,"l":0.8,"h":4.8},{"c":"L","t":16,"y":4.8,"l":2.5,"h":7.1},{"c":"L","t":20,"y":6.0,"l":3.6,"h":8.4},{"c":"L","t":25,"y":7.2,"l":4.8,"h":9.6},{"c":"L","t":30,"y":8.3,"l":5.8,"h":10.8},{"c":"L","t":35,"y":9.6,"l":7.0,"h":12.2},{"c":"L","t":40,"y":11.3,"l":8.6,"h":14.0},{"c":"L","t":45,"y":13.5,"l":10.6,"h":16.4},{"c":"L","t":50,"y":16.0,"l":12.8,"h":19.2},{"c":"L","t":53,"y":17.1,"l":13.7,"h":20.5},{"c":"L","t":56,"y":16.0,"l":12.8,"h":19.2},{"c":"L","t":59,"y":11.0,"l":8.5,"h":13.5},{"c":"L","t":62,"y":4.5,"l":3.0,"h":6.0},{"c":"L","t":65,"y":1.3,"l":0.6,"h":2.0},{"c":"L","t":68,"y":0.3,"l":0,"h":0.6},{"c":"L","t":72,"y":0,"l":0,"h":0.2},{"c":"L","t":80,"y":0,"l":0,"h":0.2},{"c":"L","t":90,"y":0.1,"l":0,"h":0.3},{"c":"L","t":97,"y":0.3,"l":0.1,"h":0.5},{"c":"L","t":100,"y":0,"l":0,"h":0.2},
{"c":"U","t":0,"y":0,"l":0,"h":0.2},{"c":"U","t":4,"y":0.3,"l":0,"h":0.8},{"c":"U","t":8,"y":2.0,"l":0.8,"h":3.2},{"c":"U","t":12,"y":4.0,"l":2.5,"h":5.5},{"c":"U","t":16,"y":6.0,"l":4.0,"h":8.0},{"c":"U","t":20,"y":7.0,"l":5.2,"h":8.8},{"c":"U","t":25,"y":7.8,"l":6.0,"h":9.6},{"c":"U","t":30,"y":8.5,"l":6.7,"h":10.3},{"c":"U","t":35,"y":9.8,"l":7.8,"h":11.8},{"c":"U","t":40,"y":11.5,"l":9.3,"h":13.7},{"c":"U","t":45,"y":14.0,"l":11.5,"h":16.5},{"c":"U","t":50,"y":17.0,"l":14.2,"h":19.8},{"c":"U","t":53,"y":18.6,"l":15.5,"h":21.9},{"c":"U","t":56,"y":17.5,"l":14.6,"h":20.4},{"c":"U","t":59,"y":12.0,"l":9.6,"h":14.4},{"c":"U","t":62,"y":5.0,"l":3.5,"h":6.5},{"c":"U","t":65,"y":1.5,"l":0.8,"h":2.2},{"c":"U","t":68,"y":0.3,"l":0,"h":0.6},{"c":"U","t":72,"y":0,"l":0,"h":0.2},{"c":"U","t":80,"y":0,"l":0,"h":0.2},{"c":"U","t":90,"y":0.1,"l":0,"h":0.3},{"c":"U","t":97,"y":0.3,"l":0.1,"h":0.5},{"c":"U","t":100,"y":0,"l":0,"h":0.2},
{"c":"D","t":0,"y":0,"l":0,"h":0.2},{"c":"D","t":4,"y":0.3,"l":0,"h":0.8},{"c":"D","t":8,"y":2.5,"l":1.2,"h":3.8},{"c":"D","t":12,"y":5.0,"l":3.4,"h":6.6},{"c":"D","t":16,"y":7.0,"l":5.3,"h":8.7},{"c":"D","t":20,"y":7.6,"l":6.0,"h":9.2},{"c":"D","t":25,"y":7.9,"l":6.3,"h":9.5},{"c":"D","t":30,"y":8.5,"l":6.9,"h":10.1},{"c":"D","t":35,"y":9.8,"l":8.0,"h":11.6},{"c":"D","t":40,"y":11.3,"l":9.3,"h":13.3},{"c":"D","t":45,"y":12.8,"l":10.6,"h":15.0},{"c":"D","t":50,"y":14.3,"l":11.8,"h":16.8},{"c":"D","t":53,"y":14.8,"l":12.1,"h":17.5},{"c":"D","t":56,"y":13.5,"l":11.0,"h":16.0},{"c":"D","t":59,"y":9.5,"l":7.4,"h":11.6},{"c":"D","t":62,"y":4.0,"l":2.8,"h":5.2},{"c":"D","t":65,"y":1.0,"l":0.5,"h":1.5},{"c":"D","t":68,"y":0.2,"l":0,"h":0.5},{"c":"D","t":72,"y":0,"l":0,"h":0.2},{"c":"D","t":80,"y":0,"l":0,"h":0.2},{"c":"D","t":90,"y":0.1,"l":0,"h":0.3},{"c":"D","t":97,"y":0.3,"l":0.1,"h":0.5},{"c":"D","t":100,"y":0,"l":0,"h":0.2}
],
"ta":[
{"c":"L","t":0,"y":1.6,"l":1.0,"h":2.2},{"c":"L","t":2,"y":2.2,"l":1.3,"h":3.1},{"c":"L","t":4,"y":2.5,"l":1.5,"h":3.5},{"c":"L","t":6,"y":2.0,"l":1.0,"h":3.0},{"c":"L","t":8,"y":1.5,"l":0.6,"h":2.4},{"c":"L","t":11,"y":0.95,"l":0.1,"h":1.8},{"c":"L","t":14,"y":0.6,"l":0,"h":1.5},{"c":"L","t":17,"y":0.35,"l":0,"h":1.0},{"c":"L","t":20,"y":0.05,"l":0,"h":0.4},{"c":"L","t":25,"y":0,"l":0,"h":0.05},{"c":"L","t":60,"y":0,"l":0,"h":0.05},{"c":"L","t":64,"y":0.2,"l":0,"h":0.5},{"c":"L","t":67,"y":0.9,"l":0.5,"h":1.4},{"c":"L","t":70,"y":1.15,"l":0.7,"h":1.7},{"c":"L","t":74,"y":1.1,"l":0.75,"h":1.5},{"c":"L","t":78,"y":0.9,"l":0.65,"h":1.2},{"c":"L","t":82,"y":0.75,"l":0.5,"h":1.0},{"c":"L","t":86,"y":0.7,"l":0.45,"h":0.95},{"c":"L","t":90,"y":0.6,"l":0.35,"h":0.85},{"c":"L","t":94,"y":0.4,"l":0.2,"h":0.65},{"c":"L","t":97,"y":0.2,"l":0.05,"h":0.4},{"c":"L","t":100,"y":1.0,"l":0.5,"h":1.5},
{"c":"U","t":0,"y":0.8,"l":0.3,"h":1.3},{"c":"U","t":3,"y":0.95,"l":0.4,"h":1.6},{"c":"U","t":6,"y":0.7,"l":0.25,"h":1.2},{"c":"U","t":9,"y":0.3,"l":0.05,"h":0.6},{"c":"U","t":12,"y":0.1,"l":0,"h":0.3},{"c":"U","t":15,"y":0.02,"l":0,"h":0.1},{"c":"U","t":20,"y":0,"l":0,"h":0.05},{"c":"U","t":62,"y":0,"l":0,"h":0.05},{"c":"U","t":64,"y":0.1,"l":0,"h":0.3},{"c":"U","t":67,"y":0.8,"l":0.4,"h":1.2},{"c":"U","t":70,"y":1.4,"l":1.0,"h":1.8},{"c":"U","t":73,"y":1.35,"l":1.0,"h":1.7},{"c":"U","t":77,"y":1.0,"l":0.75,"h":1.3},{"c":"U","t":82,"y":0.8,"l":0.5,"h":1.1},{"c":"U","t":87,"y":0.75,"l":0.45,"h":1.1},{"c":"U","t":92,"y":0.65,"l":0.35,"h":1.0},{"c":"U","t":96,"y":0.55,"l":0.3,"h":0.85},{"c":"U","t":100,"y":0.5,"l":0.25,"h":0.8},
{"c":"D","t":0,"y":1.6,"l":1.0,"h":2.2},{"c":"D","t":2,"y":2.8,"l":2.0,"h":3.6},{"c":"D","t":4,"y":3.35,"l":2.5,"h":4.2},{"c":"D","t":6,"y":2.9,"l":2.0,"h":3.8},{"c":"D","t":8,"y":2.0,"l":1.0,"h":3.0},{"c":"D","t":11,"y":1.2,"l":0.3,"h":2.1},{"c":"D","t":14,"y":0.6,"l":0,"h":1.3},{"c":"D","t":17,"y":0.25,"l":0,"h":0.7},{"c":"D","t":20,"y":0.05,"l":0,"h":0.2},{"c":"D","t":25,"y":0,"l":0,"h":0.05},{"c":"D","t":60,"y":0,"l":0,"h":0.05},{"c":"D","t":63,"y":0.2,"l":0,"h":0.5},{"c":"D","t":66,"y":1.0,"l":0.5,"h":1.6},{"c":"D","t":69,"y":1.5,"l":1.0,"h":2.0},{"c":"D","t":72,"y":1.35,"l":0.95,"h":1.75},{"c":"D","t":75,"y":1.1,"l":0.8,"h":1.4},{"c":"D","t":80,"y":0.85,"l":0.6,"h":1.1},{"c":"D","t":85,"y":0.7,"l":0.45,"h":0.95},{"c":"D","t":90,"y":0.55,"l":0.3,"h":0.8},{"c":"D","t":94,"y":0.35,"l":0.15,"h":0.6},{"c":"D","t":97,"y":0.25,"l":0.05,"h":0.5},{"c":"D","t":100,"y":1.2,"l":0.6,"h":1.8}
]
},
"config":{
"view":{"stroke":null},
"font":"Liberation Sans",
"axis":{"grid":false,"ticks":false,"domainColor":"#a0a0a0","domainWidth":1,"labelColor":"#4d4d4d","titleColor":"#4d4d4d","labelFont":"Liberation Sans","titleFont":"Liberation Sans","labelFontSize":11,"titleFontSize":11,"titleFontWeight":"normal","labelPadding":4,"titlePadding":3,"titleLineHeight":12.5,"labelFlush":false,"labelOverlap":false,"tickCount":12,"labelExpr":"replace(format(datum.value,''),'\u2212','-')"},
"axisY":{"labelPadding":5}
}
}
